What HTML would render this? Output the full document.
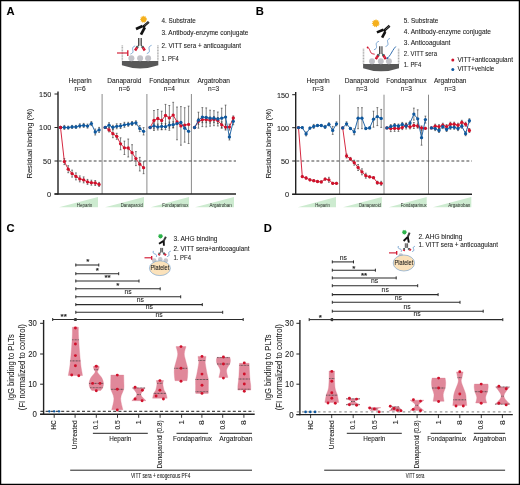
<!DOCTYPE html>
<html><head><meta charset="utf-8"><style>
html,body{margin:0;padding:0;background:#fff;}
svg{display:block;will-change:transform;}
text{font-family:"Liberation Sans", sans-serif;stroke:#222;stroke-width:0.08px;}
</style></head><body>
<svg width="520" height="485" viewBox="0 0 520 485">
<rect x="0" y="0" width="520" height="485" fill="#fff"/>
<text x="6.6" y="15" font-size="11.2" text-anchor="start" fill="#000" font-weight="bold" >A</text>
<text x="255.8" y="15" font-size="11.2" text-anchor="start" fill="#000" font-weight="bold" >B</text>
<text x="6.6" y="232.3" font-size="11.2" text-anchor="start" fill="#000" font-weight="bold" >C</text>
<text x="263.8" y="232" font-size="11.2" text-anchor="start" fill="#000" font-weight="bold" >D</text>
<text x="32.4" y="143.6" font-size="8.0" text-anchor="middle" fill="#222" textLength="70" lengthAdjust="spacingAndGlyphs" transform="rotate(-90 32.4 143.6)" >Residual binding (%)</text>
<text x="51.2" y="96.8" font-size="7.9" text-anchor="end" fill="#222" textLength="12.1" lengthAdjust="spacingAndGlyphs" >150</text>
<line x1="54.5" y1="94" x2="58" y2="94" stroke="#222" stroke-width="1" />
<text x="51.2" y="130.3" font-size="7.9" text-anchor="end" fill="#222" textLength="12.1" lengthAdjust="spacingAndGlyphs" >100</text>
<line x1="54.5" y1="127.5" x2="58" y2="127.5" stroke="#222" stroke-width="1" />
<text x="51.2" y="163.8" font-size="7.9" text-anchor="end" fill="#222" textLength="8.1" lengthAdjust="spacingAndGlyphs" >50</text>
<line x1="54.5" y1="161" x2="58" y2="161" stroke="#222" stroke-width="1" />
<text x="51.2" y="196.8" font-size="7.9" text-anchor="end" fill="#222" textLength="4.1" lengthAdjust="spacingAndGlyphs" >0</text>
<line x1="54.5" y1="194" x2="58" y2="194" stroke="#222" stroke-width="1" />
<line x1="102.1" y1="94" x2="102.1" y2="194" stroke="#8a8a8a" stroke-width="1" />
<line x1="146.9" y1="94" x2="146.9" y2="194" stroke="#8a8a8a" stroke-width="1" />
<line x1="191.4" y1="94" x2="191.4" y2="194" stroke="#8a8a8a" stroke-width="1" />
<line x1="58.7" y1="161" x2="236" y2="161" stroke="#444" stroke-width="1.1" stroke-dasharray="2.9,2.1"/>
<line x1="58" y1="91.4" x2="58" y2="194.6" stroke="#222" stroke-width="1.4" />
<line x1="54.5" y1="194" x2="236" y2="194" stroke="#222" stroke-width="1.4" />
<text x="80" y="83.2" font-size="6.6" text-anchor="middle" fill="#222" >Heparin</text>
<text x="80" y="90.6" font-size="6.6" text-anchor="middle" fill="#222" >n=6</text>
<text x="124.4" y="83.2" font-size="6.6" text-anchor="middle" fill="#222" >Danaparoid</text>
<text x="124.4" y="90.6" font-size="6.6" text-anchor="middle" fill="#222" >n=6</text>
<text x="169.4" y="83.2" font-size="6.6" text-anchor="middle" fill="#222" >Fondaparinux</text>
<text x="169.4" y="90.6" font-size="6.6" text-anchor="middle" fill="#222" >n=4</text>
<text x="213.7" y="83.2" font-size="6.6" text-anchor="middle" fill="#222" >Argatroban</text>
<text x="213.7" y="90.6" font-size="6.6" text-anchor="middle" fill="#222" >n=3</text>
<path d="M59,207.3 L98,207.3 L98,197 Z" fill="#cdebd0"/>
<text x="84.6" y="206.9" font-size="4.8" text-anchor="middle" fill="#2a2a2a" textLength="15.5" lengthAdjust="spacingAndGlyphs" style="stroke:none">Heparin</text>
<path d="M105,207.3 L144,207.3 L144,197 Z" fill="#cdebd0"/>
<text x="131.8" y="206.9" font-size="4.8" text-anchor="middle" fill="#2a2a2a" textLength="22.2" lengthAdjust="spacingAndGlyphs" style="stroke:none">Danaparoid</text>
<path d="M150.7,207.3 L189,207.3 L189,197 Z" fill="#cdebd0"/>
<text x="175.3" y="206.9" font-size="4.8" text-anchor="middle" fill="#2a2a2a" textLength="26.2" lengthAdjust="spacingAndGlyphs" style="stroke:none">Fondaparinux</text>
<path d="M195,207.3 L234,207.3 L234,197 Z" fill="#cdebd0"/>
<text x="220.7" y="206.9" font-size="4.8" text-anchor="middle" fill="#2a2a2a" textLength="22.3" lengthAdjust="spacingAndGlyphs" style="stroke:none">Argatroban</text>
<line x1="64.36" y1="158.6" x2="64.36" y2="164.6" stroke="#333" stroke-width="0.6" />
<line x1="63.46" y1="158.6" x2="65.26" y2="158.6" stroke="#333" stroke-width="0.6" />
<line x1="63.46" y1="164.6" x2="65.26" y2="164.6" stroke="#333" stroke-width="0.6" />
<line x1="68.22" y1="165.7" x2="68.22" y2="172.7" stroke="#333" stroke-width="0.6" />
<line x1="67.32" y1="165.7" x2="69.12" y2="165.7" stroke="#333" stroke-width="0.6" />
<line x1="67.32" y1="172.7" x2="69.12" y2="172.7" stroke="#333" stroke-width="0.6" />
<line x1="72.08" y1="170.1" x2="72.08" y2="177.1" stroke="#333" stroke-width="0.6" />
<line x1="71.18" y1="170.1" x2="72.98" y2="170.1" stroke="#333" stroke-width="0.6" />
<line x1="71.18" y1="177.1" x2="72.98" y2="177.1" stroke="#333" stroke-width="0.6" />
<line x1="75.94" y1="172.9" x2="75.94" y2="179.9" stroke="#333" stroke-width="0.6" />
<line x1="75.04" y1="172.9" x2="76.84" y2="172.9" stroke="#333" stroke-width="0.6" />
<line x1="75.04" y1="179.9" x2="76.84" y2="179.9" stroke="#333" stroke-width="0.6" />
<line x1="79.8" y1="175.9" x2="79.8" y2="181.9" stroke="#333" stroke-width="0.6" />
<line x1="78.9" y1="175.9" x2="80.7" y2="175.9" stroke="#333" stroke-width="0.6" />
<line x1="78.9" y1="181.9" x2="80.7" y2="181.9" stroke="#333" stroke-width="0.6" />
<line x1="83.66" y1="176.9" x2="83.66" y2="182.9" stroke="#333" stroke-width="0.6" />
<line x1="82.76" y1="176.9" x2="84.56" y2="176.9" stroke="#333" stroke-width="0.6" />
<line x1="82.76" y1="182.9" x2="84.56" y2="182.9" stroke="#333" stroke-width="0.6" />
<line x1="87.52" y1="179.4" x2="87.52" y2="184.4" stroke="#333" stroke-width="0.6" />
<line x1="86.62" y1="179.4" x2="88.42" y2="179.4" stroke="#333" stroke-width="0.6" />
<line x1="86.62" y1="184.4" x2="88.42" y2="184.4" stroke="#333" stroke-width="0.6" />
<line x1="91.38" y1="180.2" x2="91.38" y2="185.2" stroke="#333" stroke-width="0.6" />
<line x1="90.48" y1="180.2" x2="92.28" y2="180.2" stroke="#333" stroke-width="0.6" />
<line x1="90.48" y1="185.2" x2="92.28" y2="185.2" stroke="#333" stroke-width="0.6" />
<line x1="95.24" y1="180.5" x2="95.24" y2="185.5" stroke="#333" stroke-width="0.6" />
<line x1="94.34" y1="180.5" x2="96.14" y2="180.5" stroke="#333" stroke-width="0.6" />
<line x1="94.34" y1="185.5" x2="96.14" y2="185.5" stroke="#333" stroke-width="0.6" />
<line x1="99.1" y1="182.4" x2="99.1" y2="186.4" stroke="#333" stroke-width="0.6" />
<line x1="98.2" y1="182.4" x2="100.0" y2="182.4" stroke="#333" stroke-width="0.6" />
<line x1="98.2" y1="186.4" x2="100.0" y2="186.4" stroke="#333" stroke-width="0.6" />
<line x1="64.36" y1="125.4" x2="64.36" y2="129.4" stroke="#333" stroke-width="0.6" />
<line x1="63.46" y1="125.4" x2="65.26" y2="125.4" stroke="#333" stroke-width="0.6" />
<line x1="63.46" y1="129.4" x2="65.26" y2="129.4" stroke="#333" stroke-width="0.6" />
<line x1="68.22" y1="126.1" x2="68.22" y2="129.1" stroke="#333" stroke-width="0.6" />
<line x1="67.32" y1="126.1" x2="69.12" y2="126.1" stroke="#333" stroke-width="0.6" />
<line x1="67.32" y1="129.1" x2="69.12" y2="129.1" stroke="#333" stroke-width="0.6" />
<line x1="72.08" y1="125.4" x2="72.08" y2="128.4" stroke="#333" stroke-width="0.6" />
<line x1="71.18" y1="125.4" x2="72.98" y2="125.4" stroke="#333" stroke-width="0.6" />
<line x1="71.18" y1="128.4" x2="72.98" y2="128.4" stroke="#333" stroke-width="0.6" />
<line x1="75.94" y1="125.4" x2="75.94" y2="128.4" stroke="#333" stroke-width="0.6" />
<line x1="75.04" y1="125.4" x2="76.84" y2="125.4" stroke="#333" stroke-width="0.6" />
<line x1="75.04" y1="128.4" x2="76.84" y2="128.4" stroke="#333" stroke-width="0.6" />
<line x1="79.8" y1="123.8" x2="79.8" y2="127.8" stroke="#333" stroke-width="0.6" />
<line x1="78.9" y1="123.8" x2="80.7" y2="123.8" stroke="#333" stroke-width="0.6" />
<line x1="78.9" y1="127.8" x2="80.7" y2="127.8" stroke="#333" stroke-width="0.6" />
<line x1="83.66" y1="123.4" x2="83.66" y2="127.4" stroke="#333" stroke-width="0.6" />
<line x1="82.76" y1="123.4" x2="84.56" y2="123.4" stroke="#333" stroke-width="0.6" />
<line x1="82.76" y1="127.4" x2="84.56" y2="127.4" stroke="#333" stroke-width="0.6" />
<line x1="87.52" y1="124.1" x2="87.52" y2="128.1" stroke="#333" stroke-width="0.6" />
<line x1="86.62" y1="124.1" x2="88.42" y2="124.1" stroke="#333" stroke-width="0.6" />
<line x1="86.62" y1="128.1" x2="88.42" y2="128.1" stroke="#333" stroke-width="0.6" />
<line x1="91.38" y1="121.6" x2="91.38" y2="125.6" stroke="#333" stroke-width="0.6" />
<line x1="90.48" y1="121.6" x2="92.28" y2="121.6" stroke="#333" stroke-width="0.6" />
<line x1="90.48" y1="125.6" x2="92.28" y2="125.6" stroke="#333" stroke-width="0.6" />
<line x1="95.24" y1="129" x2="95.24" y2="135" stroke="#333" stroke-width="0.6" />
<line x1="94.34" y1="129" x2="96.14" y2="129" stroke="#333" stroke-width="0.6" />
<line x1="94.34" y1="135" x2="96.14" y2="135" stroke="#333" stroke-width="0.6" />
<line x1="99.1" y1="127.4" x2="99.1" y2="132.4" stroke="#333" stroke-width="0.6" />
<line x1="98.2" y1="127.4" x2="100.0" y2="127.4" stroke="#333" stroke-width="0.6" />
<line x1="98.2" y1="132.4" x2="100.0" y2="132.4" stroke="#333" stroke-width="0.6" />
<polyline points="60.50,127.4 64.36,161.6 68.22,169.2 72.08,173.6 75.94,176.4 79.80,178.9 83.66,179.9 87.52,181.9 91.38,182.7 95.24,183 99.10,184.4" fill="none" stroke="#d0112b" stroke-width="0.9"/>
<circle cx="60.50" cy="127.4" r="1.65" fill="#d0112b"/>
<circle cx="64.36" cy="161.6" r="1.65" fill="#d0112b"/>
<circle cx="68.22" cy="169.2" r="1.65" fill="#d0112b"/>
<circle cx="72.08" cy="173.6" r="1.65" fill="#d0112b"/>
<circle cx="75.94" cy="176.4" r="1.65" fill="#d0112b"/>
<circle cx="79.80" cy="178.9" r="1.65" fill="#d0112b"/>
<circle cx="83.66" cy="179.9" r="1.65" fill="#d0112b"/>
<circle cx="87.52" cy="181.9" r="1.65" fill="#d0112b"/>
<circle cx="91.38" cy="182.7" r="1.65" fill="#d0112b"/>
<circle cx="95.24" cy="183" r="1.65" fill="#d0112b"/>
<circle cx="99.10" cy="184.4" r="1.65" fill="#d0112b"/>
<polyline points="60.50,127.4 64.36,127.4 68.22,127.6 72.08,126.9 75.94,126.9 79.80,125.8 83.66,125.4 87.52,126.1 91.38,123.6 95.24,132 99.10,129.9" fill="none" stroke="#0f589e" stroke-width="0.9"/>
<circle cx="60.50" cy="127.4" r="1.65" fill="#0f589e"/>
<circle cx="64.36" cy="127.4" r="1.65" fill="#0f589e"/>
<circle cx="68.22" cy="127.6" r="1.65" fill="#0f589e"/>
<circle cx="72.08" cy="126.9" r="1.65" fill="#0f589e"/>
<circle cx="75.94" cy="126.9" r="1.65" fill="#0f589e"/>
<circle cx="79.80" cy="125.8" r="1.65" fill="#0f589e"/>
<circle cx="83.66" cy="125.4" r="1.65" fill="#0f589e"/>
<circle cx="87.52" cy="126.1" r="1.65" fill="#0f589e"/>
<circle cx="91.38" cy="123.6" r="1.65" fill="#0f589e"/>
<circle cx="95.24" cy="132" r="1.65" fill="#0f589e"/>
<circle cx="99.10" cy="129.9" r="1.65" fill="#0f589e"/>
<line x1="109.04" y1="127.9" x2="109.04" y2="131.9" stroke="#333" stroke-width="0.6" />
<line x1="108.14" y1="127.9" x2="109.94" y2="127.9" stroke="#333" stroke-width="0.6" />
<line x1="108.14" y1="131.9" x2="109.94" y2="131.9" stroke="#333" stroke-width="0.6" />
<line x1="112.88" y1="129.7" x2="112.88" y2="137.7" stroke="#333" stroke-width="0.6" />
<line x1="111.98" y1="129.7" x2="113.78" y2="129.7" stroke="#333" stroke-width="0.6" />
<line x1="111.98" y1="137.7" x2="113.78" y2="137.7" stroke="#333" stroke-width="0.6" />
<line x1="116.72" y1="133.3" x2="116.72" y2="139.3" stroke="#333" stroke-width="0.6" />
<line x1="115.82" y1="133.3" x2="117.62" y2="133.3" stroke="#333" stroke-width="0.6" />
<line x1="115.82" y1="139.3" x2="117.62" y2="139.3" stroke="#333" stroke-width="0.6" />
<line x1="120.56" y1="137.8" x2="120.56" y2="149.8" stroke="#333" stroke-width="0.6" />
<line x1="119.66" y1="137.8" x2="121.46" y2="137.8" stroke="#333" stroke-width="0.6" />
<line x1="119.66" y1="149.8" x2="121.46" y2="149.8" stroke="#333" stroke-width="0.6" />
<line x1="124.4" y1="141.1" x2="124.4" y2="154.5" stroke="#333" stroke-width="0.6" />
<line x1="123.5" y1="141.1" x2="125.3" y2="141.1" stroke="#333" stroke-width="0.6" />
<line x1="123.5" y1="154.5" x2="125.3" y2="154.5" stroke="#333" stroke-width="0.6" />
<line x1="128.24" y1="139" x2="128.24" y2="157" stroke="#333" stroke-width="0.6" />
<line x1="127.34" y1="139" x2="129.14" y2="139" stroke="#333" stroke-width="0.6" />
<line x1="127.34" y1="157" x2="129.14" y2="157" stroke="#333" stroke-width="0.6" />
<line x1="132.08" y1="144.7" x2="132.08" y2="160.7" stroke="#333" stroke-width="0.6" />
<line x1="131.18" y1="144.7" x2="132.98" y2="144.7" stroke="#333" stroke-width="0.6" />
<line x1="131.18" y1="160.7" x2="132.98" y2="160.7" stroke="#333" stroke-width="0.6" />
<line x1="135.92" y1="151.6" x2="135.92" y2="165.6" stroke="#333" stroke-width="0.6" />
<line x1="135.02" y1="151.6" x2="136.82" y2="151.6" stroke="#333" stroke-width="0.6" />
<line x1="135.02" y1="165.6" x2="136.82" y2="165.6" stroke="#333" stroke-width="0.6" />
<line x1="139.76" y1="157.4" x2="139.76" y2="171.0" stroke="#333" stroke-width="0.6" />
<line x1="138.86" y1="157.4" x2="140.66" y2="157.4" stroke="#333" stroke-width="0.6" />
<line x1="138.86" y1="171.0" x2="140.66" y2="171.0" stroke="#333" stroke-width="0.6" />
<line x1="143.6" y1="161.7" x2="143.6" y2="173.7" stroke="#333" stroke-width="0.6" />
<line x1="142.7" y1="161.7" x2="144.5" y2="161.7" stroke="#333" stroke-width="0.6" />
<line x1="142.7" y1="173.7" x2="144.5" y2="173.7" stroke="#333" stroke-width="0.6" />
<line x1="109.04" y1="122.7" x2="109.04" y2="127.7" stroke="#333" stroke-width="0.6" />
<line x1="108.14" y1="122.7" x2="109.94" y2="122.7" stroke="#333" stroke-width="0.6" />
<line x1="108.14" y1="127.7" x2="109.94" y2="127.7" stroke="#333" stroke-width="0.6" />
<line x1="112.88" y1="125.3" x2="112.88" y2="129.3" stroke="#333" stroke-width="0.6" />
<line x1="111.98" y1="125.3" x2="113.78" y2="125.3" stroke="#333" stroke-width="0.6" />
<line x1="111.98" y1="129.3" x2="113.78" y2="129.3" stroke="#333" stroke-width="0.6" />
<line x1="116.72" y1="123.8" x2="116.72" y2="128.8" stroke="#333" stroke-width="0.6" />
<line x1="115.82" y1="123.8" x2="117.62" y2="123.8" stroke="#333" stroke-width="0.6" />
<line x1="115.82" y1="128.8" x2="117.62" y2="128.8" stroke="#333" stroke-width="0.6" />
<line x1="120.56" y1="123.5" x2="120.56" y2="128.5" stroke="#333" stroke-width="0.6" />
<line x1="119.66" y1="123.5" x2="121.46" y2="123.5" stroke="#333" stroke-width="0.6" />
<line x1="119.66" y1="128.5" x2="121.46" y2="128.5" stroke="#333" stroke-width="0.6" />
<line x1="124.4" y1="122.3" x2="124.4" y2="127.3" stroke="#333" stroke-width="0.6" />
<line x1="123.5" y1="122.3" x2="125.3" y2="122.3" stroke="#333" stroke-width="0.6" />
<line x1="123.5" y1="127.3" x2="125.3" y2="127.3" stroke="#333" stroke-width="0.6" />
<line x1="128.24" y1="122.3" x2="128.24" y2="126.3" stroke="#333" stroke-width="0.6" />
<line x1="127.34" y1="122.3" x2="129.14" y2="122.3" stroke="#333" stroke-width="0.6" />
<line x1="127.34" y1="126.3" x2="129.14" y2="126.3" stroke="#333" stroke-width="0.6" />
<line x1="132.08" y1="121.5" x2="132.08" y2="125.5" stroke="#333" stroke-width="0.6" />
<line x1="131.18" y1="121.5" x2="132.98" y2="121.5" stroke="#333" stroke-width="0.6" />
<line x1="131.18" y1="125.5" x2="132.98" y2="125.5" stroke="#333" stroke-width="0.6" />
<line x1="135.92" y1="120.8" x2="135.92" y2="124.8" stroke="#333" stroke-width="0.6" />
<line x1="135.02" y1="120.8" x2="136.82" y2="120.8" stroke="#333" stroke-width="0.6" />
<line x1="135.02" y1="124.8" x2="136.82" y2="124.8" stroke="#333" stroke-width="0.6" />
<line x1="139.76" y1="125.6" x2="139.76" y2="131.6" stroke="#333" stroke-width="0.6" />
<line x1="138.86" y1="125.6" x2="140.66" y2="125.6" stroke="#333" stroke-width="0.6" />
<line x1="138.86" y1="131.6" x2="140.66" y2="131.6" stroke="#333" stroke-width="0.6" />
<line x1="143.6" y1="127.6" x2="143.6" y2="135.0" stroke="#333" stroke-width="0.6" />
<line x1="142.7" y1="127.6" x2="144.5" y2="127.6" stroke="#333" stroke-width="0.6" />
<line x1="142.7" y1="135.0" x2="144.5" y2="135.0" stroke="#333" stroke-width="0.6" />
<polyline points="105.20,127.4 109.04,129.9 112.88,133.7 116.72,136.3 120.56,143.8 124.40,147.8 128.24,148 132.08,152.7 135.92,158.6 139.76,164.2 143.60,167.7" fill="none" stroke="#d0112b" stroke-width="0.9"/>
<circle cx="105.20" cy="127.4" r="1.65" fill="#d0112b"/>
<circle cx="109.04" cy="129.9" r="1.65" fill="#d0112b"/>
<circle cx="112.88" cy="133.7" r="1.65" fill="#d0112b"/>
<circle cx="116.72" cy="136.3" r="1.65" fill="#d0112b"/>
<circle cx="120.56" cy="143.8" r="1.65" fill="#d0112b"/>
<circle cx="124.40" cy="147.8" r="1.65" fill="#d0112b"/>
<circle cx="128.24" cy="148" r="1.65" fill="#d0112b"/>
<circle cx="132.08" cy="152.7" r="1.65" fill="#d0112b"/>
<circle cx="135.92" cy="158.6" r="1.65" fill="#d0112b"/>
<circle cx="139.76" cy="164.2" r="1.65" fill="#d0112b"/>
<circle cx="143.60" cy="167.7" r="1.65" fill="#d0112b"/>
<polyline points="105.20,127.4 109.04,125.2 112.88,127.3 116.72,126.3 120.56,126 124.40,124.8 128.24,124.3 132.08,123.5 135.92,122.8 139.76,128.6 143.60,131.3" fill="none" stroke="#0f589e" stroke-width="0.9"/>
<circle cx="105.20" cy="127.4" r="1.65" fill="#0f589e"/>
<circle cx="109.04" cy="125.2" r="1.65" fill="#0f589e"/>
<circle cx="112.88" cy="127.3" r="1.65" fill="#0f589e"/>
<circle cx="116.72" cy="126.3" r="1.65" fill="#0f589e"/>
<circle cx="120.56" cy="126" r="1.65" fill="#0f589e"/>
<circle cx="124.40" cy="124.8" r="1.65" fill="#0f589e"/>
<circle cx="128.24" cy="124.3" r="1.65" fill="#0f589e"/>
<circle cx="132.08" cy="123.5" r="1.65" fill="#0f589e"/>
<circle cx="135.92" cy="122.8" r="1.65" fill="#0f589e"/>
<circle cx="139.76" cy="128.6" r="1.65" fill="#0f589e"/>
<circle cx="143.60" cy="131.3" r="1.65" fill="#0f589e"/>
<line x1="177.0" y1="107.0" x2="177.0" y2="139.8" stroke="#333" stroke-width="0.6" />
<line x1="176.1" y1="107.0" x2="177.9" y2="107.0" stroke="#333" stroke-width="0.6" />
<line x1="176.1" y1="139.8" x2="177.9" y2="139.8" stroke="#333" stroke-width="0.6" />
<line x1="180.9" y1="106.6" x2="180.9" y2="145.2" stroke="#333" stroke-width="0.6" />
<line x1="180.0" y1="106.6" x2="181.8" y2="106.6" stroke="#333" stroke-width="0.6" />
<line x1="180.0" y1="145.2" x2="181.8" y2="145.2" stroke="#333" stroke-width="0.6" />
<line x1="184.7" y1="107.7" x2="184.7" y2="142.2" stroke="#333" stroke-width="0.6" />
<line x1="183.79999999999998" y1="107.7" x2="185.6" y2="107.7" stroke="#333" stroke-width="0.6" />
<line x1="183.79999999999998" y1="142.2" x2="185.6" y2="142.2" stroke="#333" stroke-width="0.6" />
<line x1="188.6" y1="106.1" x2="188.6" y2="143.5" stroke="#333" stroke-width="0.6" />
<line x1="187.7" y1="106.1" x2="189.5" y2="106.1" stroke="#333" stroke-width="0.6" />
<line x1="187.7" y1="143.5" x2="189.5" y2="143.5" stroke="#333" stroke-width="0.6" />
<line x1="153.95" y1="110.5" x2="153.95" y2="130.5" stroke="#333" stroke-width="0.6" />
<line x1="153.05" y1="110.5" x2="154.85" y2="110.5" stroke="#333" stroke-width="0.6" />
<line x1="153.05" y1="130.5" x2="154.85" y2="130.5" stroke="#333" stroke-width="0.6" />
<line x1="157.8" y1="109.5" x2="157.8" y2="127.5" stroke="#333" stroke-width="0.6" />
<line x1="156.9" y1="109.5" x2="158.7" y2="109.5" stroke="#333" stroke-width="0.6" />
<line x1="156.9" y1="127.5" x2="158.7" y2="127.5" stroke="#333" stroke-width="0.6" />
<line x1="161.65" y1="111.2" x2="161.65" y2="129.8" stroke="#333" stroke-width="0.6" />
<line x1="160.75" y1="111.2" x2="162.55" y2="111.2" stroke="#333" stroke-width="0.6" />
<line x1="160.75" y1="129.8" x2="162.55" y2="129.8" stroke="#333" stroke-width="0.6" />
<line x1="165.5" y1="104.4" x2="165.5" y2="126.4" stroke="#333" stroke-width="0.6" />
<line x1="164.6" y1="104.4" x2="166.4" y2="104.4" stroke="#333" stroke-width="0.6" />
<line x1="164.6" y1="126.4" x2="166.4" y2="126.4" stroke="#333" stroke-width="0.6" />
<line x1="169.35" y1="105.5" x2="169.35" y2="130.3" stroke="#333" stroke-width="0.6" />
<line x1="168.45" y1="105.5" x2="170.25" y2="105.5" stroke="#333" stroke-width="0.6" />
<line x1="168.45" y1="130.3" x2="170.25" y2="130.3" stroke="#333" stroke-width="0.6" />
<line x1="173.2" y1="102.3" x2="173.2" y2="127.9" stroke="#333" stroke-width="0.6" />
<line x1="172.3" y1="102.3" x2="174.1" y2="102.3" stroke="#333" stroke-width="0.6" />
<line x1="172.3" y1="127.9" x2="174.1" y2="127.9" stroke="#333" stroke-width="0.6" />
<line x1="153.95" y1="122.9" x2="153.95" y2="128.9" stroke="#333" stroke-width="0.6" />
<line x1="153.05" y1="122.9" x2="154.85" y2="122.9" stroke="#333" stroke-width="0.6" />
<line x1="153.05" y1="128.9" x2="154.85" y2="128.9" stroke="#333" stroke-width="0.6" />
<line x1="157.8" y1="124" x2="157.8" y2="130" stroke="#333" stroke-width="0.6" />
<line x1="156.9" y1="124" x2="158.7" y2="124" stroke="#333" stroke-width="0.6" />
<line x1="156.9" y1="130" x2="158.7" y2="130" stroke="#333" stroke-width="0.6" />
<line x1="161.65" y1="123.4" x2="161.65" y2="129.4" stroke="#333" stroke-width="0.6" />
<line x1="160.75" y1="123.4" x2="162.55" y2="123.4" stroke="#333" stroke-width="0.6" />
<line x1="160.75" y1="129.4" x2="162.55" y2="129.4" stroke="#333" stroke-width="0.6" />
<line x1="165.5" y1="123.7" x2="165.5" y2="129.7" stroke="#333" stroke-width="0.6" />
<line x1="164.6" y1="123.7" x2="166.4" y2="123.7" stroke="#333" stroke-width="0.6" />
<line x1="164.6" y1="129.7" x2="166.4" y2="129.7" stroke="#333" stroke-width="0.6" />
<line x1="169.35" y1="122.1" x2="169.35" y2="128.1" stroke="#333" stroke-width="0.6" />
<line x1="168.45" y1="122.1" x2="170.25" y2="122.1" stroke="#333" stroke-width="0.6" />
<line x1="168.45" y1="128.1" x2="170.25" y2="128.1" stroke="#333" stroke-width="0.6" />
<line x1="173.2" y1="121.7" x2="173.2" y2="127.7" stroke="#333" stroke-width="0.6" />
<line x1="172.3" y1="121.7" x2="174.1" y2="121.7" stroke="#333" stroke-width="0.6" />
<line x1="172.3" y1="127.7" x2="174.1" y2="127.7" stroke="#333" stroke-width="0.6" />
<polyline points="150.10,127.5 153.95,120.5 157.80,118.5 161.65,120.5 165.50,115.4 169.35,117.9 173.20,115.1 177.05,122 180.90,125.9 184.75,125.1 188.60,124.4" fill="none" stroke="#d0112b" stroke-width="0.9"/>
<circle cx="150.10" cy="127.5" r="1.65" fill="#d0112b"/>
<circle cx="153.95" cy="120.5" r="1.65" fill="#d0112b"/>
<circle cx="157.80" cy="118.5" r="1.65" fill="#d0112b"/>
<circle cx="161.65" cy="120.5" r="1.65" fill="#d0112b"/>
<circle cx="165.50" cy="115.4" r="1.65" fill="#d0112b"/>
<circle cx="169.35" cy="117.9" r="1.65" fill="#d0112b"/>
<circle cx="173.20" cy="115.1" r="1.65" fill="#d0112b"/>
<circle cx="177.05" cy="122" r="1.65" fill="#d0112b"/>
<circle cx="180.90" cy="125.9" r="1.65" fill="#d0112b"/>
<circle cx="184.75" cy="125.1" r="1.65" fill="#d0112b"/>
<circle cx="188.60" cy="124.4" r="1.65" fill="#d0112b"/>
<polyline points="150.10,127.5 153.95,125.9 157.80,127 161.65,126.4 165.50,126.7 169.35,125.1 173.20,124.7 177.05,123.6 180.90,122.5 184.75,128.2 188.60,131.3" fill="none" stroke="#0f589e" stroke-width="0.9"/>
<circle cx="150.10" cy="127.5" r="1.65" fill="#0f589e"/>
<circle cx="153.95" cy="125.9" r="1.65" fill="#0f589e"/>
<circle cx="157.80" cy="127" r="1.65" fill="#0f589e"/>
<circle cx="161.65" cy="126.4" r="1.65" fill="#0f589e"/>
<circle cx="165.50" cy="126.7" r="1.65" fill="#0f589e"/>
<circle cx="169.35" cy="125.1" r="1.65" fill="#0f589e"/>
<circle cx="173.20" cy="124.7" r="1.65" fill="#0f589e"/>
<circle cx="177.05" cy="123.6" r="1.65" fill="#0f589e"/>
<circle cx="180.90" cy="122.5" r="1.65" fill="#0f589e"/>
<circle cx="184.75" cy="128.2" r="1.65" fill="#0f589e"/>
<circle cx="188.60" cy="131.3" r="1.65" fill="#0f589e"/>
<line x1="198.47" y1="118.3" x2="198.47" y2="124.3" stroke="#333" stroke-width="0.6" />
<line x1="197.57" y1="118.3" x2="199.37" y2="118.3" stroke="#333" stroke-width="0.6" />
<line x1="197.57" y1="124.3" x2="199.37" y2="124.3" stroke="#333" stroke-width="0.6" />
<line x1="202.34" y1="116.7" x2="202.34" y2="122.7" stroke="#333" stroke-width="0.6" />
<line x1="201.44" y1="116.7" x2="203.24" y2="116.7" stroke="#333" stroke-width="0.6" />
<line x1="201.44" y1="122.7" x2="203.24" y2="122.7" stroke="#333" stroke-width="0.6" />
<line x1="206.21" y1="116.7" x2="206.21" y2="122.7" stroke="#333" stroke-width="0.6" />
<line x1="205.31" y1="116.7" x2="207.11" y2="116.7" stroke="#333" stroke-width="0.6" />
<line x1="205.31" y1="122.7" x2="207.11" y2="122.7" stroke="#333" stroke-width="0.6" />
<line x1="210.08" y1="117.2" x2="210.08" y2="123.2" stroke="#333" stroke-width="0.6" />
<line x1="209.18" y1="117.2" x2="210.98" y2="117.2" stroke="#333" stroke-width="0.6" />
<line x1="209.18" y1="123.2" x2="210.98" y2="123.2" stroke="#333" stroke-width="0.6" />
<line x1="213.95" y1="116.4" x2="213.95" y2="122.4" stroke="#333" stroke-width="0.6" />
<line x1="213.05" y1="116.4" x2="214.85" y2="116.4" stroke="#333" stroke-width="0.6" />
<line x1="213.05" y1="122.4" x2="214.85" y2="122.4" stroke="#333" stroke-width="0.6" />
<line x1="217.82" y1="117.5" x2="217.82" y2="123.5" stroke="#333" stroke-width="0.6" />
<line x1="216.92" y1="117.5" x2="218.72" y2="117.5" stroke="#333" stroke-width="0.6" />
<line x1="216.92" y1="123.5" x2="218.72" y2="123.5" stroke="#333" stroke-width="0.6" />
<line x1="221.69" y1="121.8" x2="221.69" y2="127.8" stroke="#333" stroke-width="0.6" />
<line x1="220.79" y1="121.8" x2="222.59" y2="121.8" stroke="#333" stroke-width="0.6" />
<line x1="220.79" y1="127.8" x2="222.59" y2="127.8" stroke="#333" stroke-width="0.6" />
<line x1="225.56" y1="124.1" x2="225.56" y2="130.1" stroke="#333" stroke-width="0.6" />
<line x1="224.66" y1="124.1" x2="226.46" y2="124.1" stroke="#333" stroke-width="0.6" />
<line x1="224.66" y1="130.1" x2="226.46" y2="130.1" stroke="#333" stroke-width="0.6" />
<line x1="229.43" y1="124.1" x2="229.43" y2="130.1" stroke="#333" stroke-width="0.6" />
<line x1="228.53" y1="124.1" x2="230.33" y2="124.1" stroke="#333" stroke-width="0.6" />
<line x1="228.53" y1="130.1" x2="230.33" y2="130.1" stroke="#333" stroke-width="0.6" />
<line x1="233.3" y1="115.9" x2="233.3" y2="119.9" stroke="#333" stroke-width="0.6" />
<line x1="232.4" y1="115.9" x2="234.2" y2="115.9" stroke="#333" stroke-width="0.6" />
<line x1="232.4" y1="119.9" x2="234.2" y2="119.9" stroke="#333" stroke-width="0.6" />
<line x1="198.47" y1="112.2" x2="198.47" y2="128.2" stroke="#333" stroke-width="0.6" />
<line x1="197.57" y1="112.2" x2="199.37" y2="112.2" stroke="#333" stroke-width="0.6" />
<line x1="197.57" y1="128.2" x2="199.37" y2="128.2" stroke="#333" stroke-width="0.6" />
<line x1="202.34" y1="107.6" x2="202.34" y2="126.6" stroke="#333" stroke-width="0.6" />
<line x1="201.44" y1="107.6" x2="203.24" y2="107.6" stroke="#333" stroke-width="0.6" />
<line x1="201.44" y1="126.6" x2="203.24" y2="126.6" stroke="#333" stroke-width="0.6" />
<line x1="206.21" y1="107.9" x2="206.21" y2="126.9" stroke="#333" stroke-width="0.6" />
<line x1="205.31" y1="107.9" x2="207.11" y2="107.9" stroke="#333" stroke-width="0.6" />
<line x1="205.31" y1="126.9" x2="207.11" y2="126.9" stroke="#333" stroke-width="0.6" />
<line x1="210.08" y1="110.2" x2="210.08" y2="126.2" stroke="#333" stroke-width="0.6" />
<line x1="209.18" y1="110.2" x2="210.98" y2="110.2" stroke="#333" stroke-width="0.6" />
<line x1="209.18" y1="126.2" x2="210.98" y2="126.2" stroke="#333" stroke-width="0.6" />
<line x1="213.95" y1="110.7" x2="213.95" y2="125.7" stroke="#333" stroke-width="0.6" />
<line x1="213.05" y1="110.7" x2="214.85" y2="110.7" stroke="#333" stroke-width="0.6" />
<line x1="213.05" y1="125.7" x2="214.85" y2="125.7" stroke="#333" stroke-width="0.6" />
<line x1="217.82" y1="112" x2="217.82" y2="126" stroke="#333" stroke-width="0.6" />
<line x1="216.92" y1="112" x2="218.72" y2="112" stroke="#333" stroke-width="0.6" />
<line x1="216.92" y1="126" x2="218.72" y2="126" stroke="#333" stroke-width="0.6" />
<line x1="221.69" y1="108.2" x2="221.69" y2="128.2" stroke="#333" stroke-width="0.6" />
<line x1="220.79" y1="108.2" x2="222.59" y2="108.2" stroke="#333" stroke-width="0.6" />
<line x1="220.79" y1="128.2" x2="222.59" y2="128.2" stroke="#333" stroke-width="0.6" />
<line x1="225.56" y1="105.1" x2="225.56" y2="129.1" stroke="#333" stroke-width="0.6" />
<line x1="224.66" y1="105.1" x2="226.46" y2="105.1" stroke="#333" stroke-width="0.6" />
<line x1="224.66" y1="129.1" x2="226.46" y2="129.1" stroke="#333" stroke-width="0.6" />
<line x1="229.43" y1="134" x2="229.43" y2="140" stroke="#333" stroke-width="0.6" />
<line x1="228.53" y1="134" x2="230.33" y2="134" stroke="#333" stroke-width="0.6" />
<line x1="228.53" y1="140" x2="230.33" y2="140" stroke="#333" stroke-width="0.6" />
<line x1="233.3" y1="117.8" x2="233.3" y2="124.8" stroke="#333" stroke-width="0.6" />
<line x1="232.4" y1="117.8" x2="234.2" y2="117.8" stroke="#333" stroke-width="0.6" />
<line x1="232.4" y1="124.8" x2="234.2" y2="124.8" stroke="#333" stroke-width="0.6" />
<polyline points="194.60,127.5 198.47,121.3 202.34,119.7 206.21,119.7 210.08,120.2 213.95,119.4 217.82,120.5 221.69,124.8 225.56,127.1 229.43,127.1 233.30,117.9" fill="none" stroke="#d0112b" stroke-width="0.9"/>
<circle cx="194.60" cy="127.5" r="1.65" fill="#d0112b"/>
<circle cx="198.47" cy="121.3" r="1.65" fill="#d0112b"/>
<circle cx="202.34" cy="119.7" r="1.65" fill="#d0112b"/>
<circle cx="206.21" cy="119.7" r="1.65" fill="#d0112b"/>
<circle cx="210.08" cy="120.2" r="1.65" fill="#d0112b"/>
<circle cx="213.95" cy="119.4" r="1.65" fill="#d0112b"/>
<circle cx="217.82" cy="120.5" r="1.65" fill="#d0112b"/>
<circle cx="221.69" cy="124.8" r="1.65" fill="#d0112b"/>
<circle cx="225.56" cy="127.1" r="1.65" fill="#d0112b"/>
<circle cx="229.43" cy="127.1" r="1.65" fill="#d0112b"/>
<circle cx="233.30" cy="117.9" r="1.65" fill="#d0112b"/>
<polyline points="194.60,127.5 198.47,120.2 202.34,117.1 206.21,117.4 210.08,118.2 213.95,118.2 217.82,119 221.69,118.2 225.56,117.1 229.43,137 233.30,121.3" fill="none" stroke="#0f589e" stroke-width="0.9"/>
<circle cx="194.60" cy="127.5" r="1.65" fill="#0f589e"/>
<circle cx="198.47" cy="120.2" r="1.65" fill="#0f589e"/>
<circle cx="202.34" cy="117.1" r="1.65" fill="#0f589e"/>
<circle cx="206.21" cy="117.4" r="1.65" fill="#0f589e"/>
<circle cx="210.08" cy="118.2" r="1.65" fill="#0f589e"/>
<circle cx="213.95" cy="118.2" r="1.65" fill="#0f589e"/>
<circle cx="217.82" cy="119" r="1.65" fill="#0f589e"/>
<circle cx="221.69" cy="118.2" r="1.65" fill="#0f589e"/>
<circle cx="225.56" cy="117.1" r="1.65" fill="#0f589e"/>
<circle cx="229.43" cy="137" r="1.65" fill="#0f589e"/>
<circle cx="233.30" cy="121.3" r="1.65" fill="#0f589e"/>
<circle cx="60.5" cy="127.4" r="1.6" fill="#d0112b"/>
<text x="270.9" y="143.6" font-size="8.0" text-anchor="middle" fill="#222" textLength="70" lengthAdjust="spacingAndGlyphs" transform="rotate(-90 270.9 143.6)" >Residual binding (%)</text>
<text x="289" y="97.5" font-size="7.9" text-anchor="end" fill="#222" textLength="12.1" lengthAdjust="spacingAndGlyphs" >150</text>
<line x1="292.2" y1="94.7" x2="295.7" y2="94.7" stroke="#222" stroke-width="1" />
<text x="289" y="130.5" font-size="7.9" text-anchor="end" fill="#222" textLength="12.1" lengthAdjust="spacingAndGlyphs" >100</text>
<line x1="292.2" y1="127.7" x2="295.7" y2="127.7" stroke="#222" stroke-width="1" />
<text x="289" y="163.8" font-size="7.9" text-anchor="end" fill="#222" textLength="8.1" lengthAdjust="spacingAndGlyphs" >50</text>
<line x1="292.2" y1="161" x2="295.7" y2="161" stroke="#222" stroke-width="1" />
<text x="289" y="197.10000000000002" font-size="7.9" text-anchor="end" fill="#222" textLength="4.1" lengthAdjust="spacingAndGlyphs" >0</text>
<line x1="292.2" y1="194.3" x2="295.7" y2="194.3" stroke="#222" stroke-width="1" />
<line x1="339.6" y1="94.7" x2="339.6" y2="194.3" stroke="#8a8a8a" stroke-width="1" />
<line x1="384" y1="94.7" x2="384" y2="194.3" stroke="#8a8a8a" stroke-width="1" />
<line x1="428.5" y1="94.7" x2="428.5" y2="194.3" stroke="#8a8a8a" stroke-width="1" />
<line x1="296.4" y1="161" x2="472" y2="161" stroke="#444" stroke-width="1.1" stroke-dasharray="2.9,2.1"/>
<line x1="295.7" y1="92.10000000000001" x2="295.7" y2="194.9" stroke="#222" stroke-width="1.4" />
<line x1="292.2" y1="194.3" x2="472" y2="194.3" stroke="#222" stroke-width="1.4" />
<text x="318" y="83.2" font-size="6.6" text-anchor="middle" fill="#222" >Heparin</text>
<text x="318" y="90.6" font-size="6.6" text-anchor="middle" fill="#222" >n=3</text>
<text x="361.8" y="83.2" font-size="6.6" text-anchor="middle" fill="#222" >Danaparoid</text>
<text x="361.8" y="90.6" font-size="6.6" text-anchor="middle" fill="#222" >n=3</text>
<text x="406.4" y="83.2" font-size="6.6" text-anchor="middle" fill="#222" >Fondaparinux</text>
<text x="406.4" y="90.6" font-size="6.6" text-anchor="middle" fill="#222" >n=3</text>
<text x="450.2" y="83.2" font-size="6.6" text-anchor="middle" fill="#222" >Argatroban</text>
<text x="450.2" y="90.6" font-size="6.6" text-anchor="middle" fill="#222" >n=3</text>
<path d="M297.7,207.3 L336,207.3 L336,197 Z" fill="#cdebd0"/>
<text x="322.5" y="206.9" font-size="4.8" text-anchor="middle" fill="#2a2a2a" textLength="14.7" lengthAdjust="spacingAndGlyphs" style="stroke:none">Heparin</text>
<path d="M343,207.3 L381.8,207.3 L381.8,197 Z" fill="#cdebd0"/>
<text x="370" y="206.9" font-size="4.8" text-anchor="middle" fill="#2a2a2a" textLength="21.9" lengthAdjust="spacingAndGlyphs" style="stroke:none">Danaparoid</text>
<path d="M388.7,207.3 L426.7,207.3 L426.7,197 Z" fill="#cdebd0"/>
<text x="413.7" y="206.9" font-size="4.8" text-anchor="middle" fill="#2a2a2a" textLength="25.9" lengthAdjust="spacingAndGlyphs" style="stroke:none">Fondaparinux</text>
<path d="M432.9,207.3 L471.3,207.3 L471.3,197 Z" fill="#cdebd0"/>
<text x="459.3" y="206.9" font-size="4.8" text-anchor="middle" fill="#2a2a2a" textLength="22.1" lengthAdjust="spacingAndGlyphs" style="stroke:none">Argatroban</text>
<line x1="302.3" y1="175.6" x2="302.3" y2="177.6" stroke="#333" stroke-width="0.6" />
<line x1="301.4" y1="175.6" x2="303.2" y2="175.6" stroke="#333" stroke-width="0.6" />
<line x1="301.4" y1="177.6" x2="303.2" y2="177.6" stroke="#333" stroke-width="0.6" />
<line x1="306.1" y1="177" x2="306.1" y2="179" stroke="#333" stroke-width="0.6" />
<line x1="305.2" y1="177" x2="307.0" y2="177" stroke="#333" stroke-width="0.6" />
<line x1="305.2" y1="179" x2="307.0" y2="179" stroke="#333" stroke-width="0.6" />
<line x1="309.9" y1="178.8" x2="309.9" y2="180.8" stroke="#333" stroke-width="0.6" />
<line x1="309.0" y1="178.8" x2="310.8" y2="178.8" stroke="#333" stroke-width="0.6" />
<line x1="309.0" y1="180.8" x2="310.8" y2="180.8" stroke="#333" stroke-width="0.6" />
<line x1="313.7" y1="179.7" x2="313.7" y2="181.7" stroke="#333" stroke-width="0.6" />
<line x1="312.8" y1="179.7" x2="314.6" y2="179.7" stroke="#333" stroke-width="0.6" />
<line x1="312.8" y1="181.7" x2="314.6" y2="181.7" stroke="#333" stroke-width="0.6" />
<line x1="317.5" y1="180.5" x2="317.5" y2="182.5" stroke="#333" stroke-width="0.6" />
<line x1="316.6" y1="180.5" x2="318.4" y2="180.5" stroke="#333" stroke-width="0.6" />
<line x1="316.6" y1="182.5" x2="318.4" y2="182.5" stroke="#333" stroke-width="0.6" />
<line x1="321.3" y1="180.9" x2="321.3" y2="182.9" stroke="#333" stroke-width="0.6" />
<line x1="320.4" y1="180.9" x2="322.2" y2="180.9" stroke="#333" stroke-width="0.6" />
<line x1="320.4" y1="182.9" x2="322.2" y2="182.9" stroke="#333" stroke-width="0.6" />
<line x1="325.1" y1="178.1" x2="325.1" y2="180.1" stroke="#333" stroke-width="0.6" />
<line x1="324.2" y1="178.1" x2="326.0" y2="178.1" stroke="#333" stroke-width="0.6" />
<line x1="324.2" y1="180.1" x2="326.0" y2="180.1" stroke="#333" stroke-width="0.6" />
<line x1="328.9" y1="177.3" x2="328.9" y2="182.3" stroke="#333" stroke-width="0.6" />
<line x1="328.0" y1="177.3" x2="329.8" y2="177.3" stroke="#333" stroke-width="0.6" />
<line x1="328.0" y1="182.3" x2="329.8" y2="182.3" stroke="#333" stroke-width="0.6" />
<line x1="332.7" y1="182.3" x2="332.7" y2="184.3" stroke="#333" stroke-width="0.6" />
<line x1="331.8" y1="182.3" x2="333.6" y2="182.3" stroke="#333" stroke-width="0.6" />
<line x1="331.8" y1="184.3" x2="333.6" y2="184.3" stroke="#333" stroke-width="0.6" />
<line x1="336.5" y1="182.3" x2="336.5" y2="184.3" stroke="#333" stroke-width="0.6" />
<line x1="335.6" y1="182.3" x2="337.4" y2="182.3" stroke="#333" stroke-width="0.6" />
<line x1="335.6" y1="184.3" x2="337.4" y2="184.3" stroke="#333" stroke-width="0.6" />
<line x1="302.3" y1="126.6" x2="302.3" y2="128.6" stroke="#333" stroke-width="0.6" />
<line x1="301.4" y1="126.6" x2="303.2" y2="126.6" stroke="#333" stroke-width="0.6" />
<line x1="301.4" y1="128.6" x2="303.2" y2="128.6" stroke="#333" stroke-width="0.6" />
<line x1="306.1" y1="131.9" x2="306.1" y2="135.9" stroke="#333" stroke-width="0.6" />
<line x1="305.2" y1="131.9" x2="307.0" y2="131.9" stroke="#333" stroke-width="0.6" />
<line x1="305.2" y1="135.9" x2="307.0" y2="135.9" stroke="#333" stroke-width="0.6" />
<line x1="309.9" y1="127.1" x2="309.9" y2="129.1" stroke="#333" stroke-width="0.6" />
<line x1="309.0" y1="127.1" x2="310.8" y2="127.1" stroke="#333" stroke-width="0.6" />
<line x1="309.0" y1="129.1" x2="310.8" y2="129.1" stroke="#333" stroke-width="0.6" />
<line x1="313.7" y1="124.4" x2="313.7" y2="128.4" stroke="#333" stroke-width="0.6" />
<line x1="312.8" y1="124.4" x2="314.6" y2="124.4" stroke="#333" stroke-width="0.6" />
<line x1="312.8" y1="128.4" x2="314.6" y2="128.4" stroke="#333" stroke-width="0.6" />
<line x1="317.5" y1="124.5" x2="317.5" y2="126.5" stroke="#333" stroke-width="0.6" />
<line x1="316.6" y1="124.5" x2="318.4" y2="124.5" stroke="#333" stroke-width="0.6" />
<line x1="316.6" y1="126.5" x2="318.4" y2="126.5" stroke="#333" stroke-width="0.6" />
<line x1="321.3" y1="124.5" x2="321.3" y2="126.5" stroke="#333" stroke-width="0.6" />
<line x1="320.4" y1="124.5" x2="322.2" y2="124.5" stroke="#333" stroke-width="0.6" />
<line x1="320.4" y1="126.5" x2="322.2" y2="126.5" stroke="#333" stroke-width="0.6" />
<line x1="325.1" y1="125.4" x2="325.1" y2="128.4" stroke="#333" stroke-width="0.6" />
<line x1="324.2" y1="125.4" x2="326.0" y2="125.4" stroke="#333" stroke-width="0.6" />
<line x1="324.2" y1="128.4" x2="326.0" y2="128.4" stroke="#333" stroke-width="0.6" />
<line x1="328.9" y1="122.8" x2="328.9" y2="125.8" stroke="#333" stroke-width="0.6" />
<line x1="328.0" y1="122.8" x2="329.8" y2="122.8" stroke="#333" stroke-width="0.6" />
<line x1="328.0" y1="125.8" x2="329.8" y2="125.8" stroke="#333" stroke-width="0.6" />
<line x1="332.7" y1="126.4" x2="332.7" y2="134.4" stroke="#333" stroke-width="0.6" />
<line x1="331.8" y1="126.4" x2="333.6" y2="126.4" stroke="#333" stroke-width="0.6" />
<line x1="331.8" y1="134.4" x2="333.6" y2="134.4" stroke="#333" stroke-width="0.6" />
<line x1="336.5" y1="121.8" x2="336.5" y2="125.8" stroke="#333" stroke-width="0.6" />
<line x1="335.6" y1="121.8" x2="337.4" y2="121.8" stroke="#333" stroke-width="0.6" />
<line x1="335.6" y1="125.8" x2="337.4" y2="125.8" stroke="#333" stroke-width="0.6" />
<polyline points="298.50,127.6 302.30,176.6 306.10,178 309.90,179.8 313.70,180.7 317.50,181.5 321.30,181.9 325.10,179.1 328.90,179.8 332.70,183.3 336.50,183.3" fill="none" stroke="#d0112b" stroke-width="0.9"/>
<circle cx="298.50" cy="127.6" r="1.65" fill="#d0112b"/>
<circle cx="302.30" cy="176.6" r="1.65" fill="#d0112b"/>
<circle cx="306.10" cy="178" r="1.65" fill="#d0112b"/>
<circle cx="309.90" cy="179.8" r="1.65" fill="#d0112b"/>
<circle cx="313.70" cy="180.7" r="1.65" fill="#d0112b"/>
<circle cx="317.50" cy="181.5" r="1.65" fill="#d0112b"/>
<circle cx="321.30" cy="181.9" r="1.65" fill="#d0112b"/>
<circle cx="325.10" cy="179.1" r="1.65" fill="#d0112b"/>
<circle cx="328.90" cy="179.8" r="1.65" fill="#d0112b"/>
<circle cx="332.70" cy="183.3" r="1.65" fill="#d0112b"/>
<circle cx="336.50" cy="183.3" r="1.65" fill="#d0112b"/>
<polyline points="298.50,127.6 302.30,127.6 306.10,133.9 309.90,128.1 313.70,126.4 317.50,125.5 321.30,125.5 325.10,126.9 328.90,124.3 332.70,130.4 336.50,123.8" fill="none" stroke="#0f589e" stroke-width="0.9"/>
<circle cx="298.50" cy="127.6" r="1.65" fill="#0f589e"/>
<circle cx="302.30" cy="127.6" r="1.65" fill="#0f589e"/>
<circle cx="306.10" cy="133.9" r="1.65" fill="#0f589e"/>
<circle cx="309.90" cy="128.1" r="1.65" fill="#0f589e"/>
<circle cx="313.70" cy="126.4" r="1.65" fill="#0f589e"/>
<circle cx="317.50" cy="125.5" r="1.65" fill="#0f589e"/>
<circle cx="321.30" cy="125.5" r="1.65" fill="#0f589e"/>
<circle cx="325.10" cy="126.9" r="1.65" fill="#0f589e"/>
<circle cx="328.90" cy="124.3" r="1.65" fill="#0f589e"/>
<circle cx="332.70" cy="130.4" r="1.65" fill="#0f589e"/>
<circle cx="336.50" cy="123.8" r="1.65" fill="#0f589e"/>
<line x1="346.55" y1="154" x2="346.55" y2="158" stroke="#333" stroke-width="0.6" />
<line x1="345.65" y1="154" x2="347.45" y2="154" stroke="#333" stroke-width="0.6" />
<line x1="345.65" y1="158" x2="347.45" y2="158" stroke="#333" stroke-width="0.6" />
<line x1="350.4" y1="157.4" x2="350.4" y2="160.4" stroke="#333" stroke-width="0.6" />
<line x1="349.5" y1="157.4" x2="351.3" y2="157.4" stroke="#333" stroke-width="0.6" />
<line x1="349.5" y1="160.4" x2="351.3" y2="160.4" stroke="#333" stroke-width="0.6" />
<line x1="354.25" y1="160.2" x2="354.25" y2="165.2" stroke="#333" stroke-width="0.6" />
<line x1="353.35" y1="160.2" x2="355.15" y2="160.2" stroke="#333" stroke-width="0.6" />
<line x1="353.35" y1="165.2" x2="355.15" y2="165.2" stroke="#333" stroke-width="0.6" />
<line x1="358.1" y1="164.5" x2="358.1" y2="170.5" stroke="#333" stroke-width="0.6" />
<line x1="357.2" y1="164.5" x2="359.0" y2="164.5" stroke="#333" stroke-width="0.6" />
<line x1="357.2" y1="170.5" x2="359.0" y2="170.5" stroke="#333" stroke-width="0.6" />
<line x1="361.95" y1="168.8" x2="361.95" y2="174.8" stroke="#333" stroke-width="0.6" />
<line x1="361.05" y1="168.8" x2="362.85" y2="168.8" stroke="#333" stroke-width="0.6" />
<line x1="361.05" y1="174.8" x2="362.85" y2="174.8" stroke="#333" stroke-width="0.6" />
<line x1="365.8" y1="173.2" x2="365.8" y2="178.2" stroke="#333" stroke-width="0.6" />
<line x1="364.9" y1="173.2" x2="366.7" y2="173.2" stroke="#333" stroke-width="0.6" />
<line x1="364.9" y1="178.2" x2="366.7" y2="178.2" stroke="#333" stroke-width="0.6" />
<line x1="369.65" y1="175.8" x2="369.65" y2="177.8" stroke="#333" stroke-width="0.6" />
<line x1="368.75" y1="175.8" x2="370.55" y2="175.8" stroke="#333" stroke-width="0.6" />
<line x1="368.75" y1="177.8" x2="370.55" y2="177.8" stroke="#333" stroke-width="0.6" />
<line x1="373.5" y1="176.7" x2="373.5" y2="178.7" stroke="#333" stroke-width="0.6" />
<line x1="372.6" y1="176.7" x2="374.4" y2="176.7" stroke="#333" stroke-width="0.6" />
<line x1="372.6" y1="178.7" x2="374.4" y2="178.7" stroke="#333" stroke-width="0.6" />
<line x1="377.35" y1="181.2" x2="377.35" y2="184.2" stroke="#333" stroke-width="0.6" />
<line x1="376.45" y1="181.2" x2="378.25" y2="181.2" stroke="#333" stroke-width="0.6" />
<line x1="376.45" y1="184.2" x2="378.25" y2="184.2" stroke="#333" stroke-width="0.6" />
<line x1="381.2" y1="181.3" x2="381.2" y2="185.3" stroke="#333" stroke-width="0.6" />
<line x1="380.3" y1="181.3" x2="382.1" y2="181.3" stroke="#333" stroke-width="0.6" />
<line x1="380.3" y1="185.3" x2="382.1" y2="185.3" stroke="#333" stroke-width="0.6" />
<line x1="346.55" y1="121.8" x2="346.55" y2="125.8" stroke="#333" stroke-width="0.6" />
<line x1="345.65" y1="121.8" x2="347.45" y2="121.8" stroke="#333" stroke-width="0.6" />
<line x1="345.65" y1="125.8" x2="347.45" y2="125.8" stroke="#333" stroke-width="0.6" />
<line x1="350.4" y1="127.5" x2="350.4" y2="129.5" stroke="#333" stroke-width="0.6" />
<line x1="349.5" y1="127.5" x2="351.3" y2="127.5" stroke="#333" stroke-width="0.6" />
<line x1="349.5" y1="129.5" x2="351.3" y2="129.5" stroke="#333" stroke-width="0.6" />
<line x1="354.25" y1="128.8" x2="354.25" y2="134.8" stroke="#333" stroke-width="0.6" />
<line x1="353.35" y1="128.8" x2="355.15" y2="128.8" stroke="#333" stroke-width="0.6" />
<line x1="353.35" y1="134.8" x2="355.15" y2="134.8" stroke="#333" stroke-width="0.6" />
<line x1="358.1" y1="107.7" x2="358.1" y2="128.7" stroke="#333" stroke-width="0.6" />
<line x1="357.2" y1="107.7" x2="359.0" y2="107.7" stroke="#333" stroke-width="0.6" />
<line x1="357.2" y1="128.7" x2="359.0" y2="128.7" stroke="#333" stroke-width="0.6" />
<line x1="361.95" y1="107.7" x2="361.95" y2="128.7" stroke="#333" stroke-width="0.6" />
<line x1="361.05" y1="107.7" x2="362.85" y2="107.7" stroke="#333" stroke-width="0.6" />
<line x1="361.05" y1="128.7" x2="362.85" y2="128.7" stroke="#333" stroke-width="0.6" />
<line x1="365.8" y1="127.5" x2="365.8" y2="129.5" stroke="#333" stroke-width="0.6" />
<line x1="364.9" y1="127.5" x2="366.7" y2="127.5" stroke="#333" stroke-width="0.6" />
<line x1="364.9" y1="129.5" x2="366.7" y2="129.5" stroke="#333" stroke-width="0.6" />
<line x1="369.65" y1="126.9" x2="369.65" y2="128.9" stroke="#333" stroke-width="0.6" />
<line x1="368.75" y1="126.9" x2="370.55" y2="126.9" stroke="#333" stroke-width="0.6" />
<line x1="368.75" y1="128.9" x2="370.55" y2="128.9" stroke="#333" stroke-width="0.6" />
<line x1="373.5" y1="111.2" x2="373.5" y2="127.2" stroke="#333" stroke-width="0.6" />
<line x1="372.6" y1="111.2" x2="374.4" y2="111.2" stroke="#333" stroke-width="0.6" />
<line x1="372.6" y1="127.2" x2="374.4" y2="127.2" stroke="#333" stroke-width="0.6" />
<line x1="377.35" y1="107.6" x2="377.35" y2="125.6" stroke="#333" stroke-width="0.6" />
<line x1="376.45" y1="107.6" x2="378.25" y2="107.6" stroke="#333" stroke-width="0.6" />
<line x1="376.45" y1="125.6" x2="378.25" y2="125.6" stroke="#333" stroke-width="0.6" />
<line x1="381.2" y1="109.4" x2="381.2" y2="127.4" stroke="#333" stroke-width="0.6" />
<line x1="380.3" y1="109.4" x2="382.1" y2="109.4" stroke="#333" stroke-width="0.6" />
<line x1="380.3" y1="127.4" x2="382.1" y2="127.4" stroke="#333" stroke-width="0.6" />
<polyline points="342.70,127.9 346.55,156 350.40,158.9 354.25,162.7 358.10,167.5 361.95,171.8 365.80,175.7 369.65,176.8 373.50,177.7 377.35,182.7 381.20,183.3" fill="none" stroke="#d0112b" stroke-width="0.9"/>
<circle cx="342.70" cy="127.9" r="1.65" fill="#d0112b"/>
<circle cx="346.55" cy="156" r="1.65" fill="#d0112b"/>
<circle cx="350.40" cy="158.9" r="1.65" fill="#d0112b"/>
<circle cx="354.25" cy="162.7" r="1.65" fill="#d0112b"/>
<circle cx="358.10" cy="167.5" r="1.65" fill="#d0112b"/>
<circle cx="361.95" cy="171.8" r="1.65" fill="#d0112b"/>
<circle cx="365.80" cy="175.7" r="1.65" fill="#d0112b"/>
<circle cx="369.65" cy="176.8" r="1.65" fill="#d0112b"/>
<circle cx="373.50" cy="177.7" r="1.65" fill="#d0112b"/>
<circle cx="377.35" cy="182.7" r="1.65" fill="#d0112b"/>
<circle cx="381.20" cy="183.3" r="1.65" fill="#d0112b"/>
<polyline points="342.70,127.9 346.55,123.8 350.40,128.5 354.25,131.8 358.10,118.2 361.95,118.2 365.80,128.5 369.65,127.9 373.50,119.2 377.35,116.6 381.20,118.4" fill="none" stroke="#0f589e" stroke-width="0.9"/>
<circle cx="342.70" cy="127.9" r="1.65" fill="#0f589e"/>
<circle cx="346.55" cy="123.8" r="1.65" fill="#0f589e"/>
<circle cx="350.40" cy="128.5" r="1.65" fill="#0f589e"/>
<circle cx="354.25" cy="131.8" r="1.65" fill="#0f589e"/>
<circle cx="358.10" cy="118.2" r="1.65" fill="#0f589e"/>
<circle cx="361.95" cy="118.2" r="1.65" fill="#0f589e"/>
<circle cx="365.80" cy="128.5" r="1.65" fill="#0f589e"/>
<circle cx="369.65" cy="127.9" r="1.65" fill="#0f589e"/>
<circle cx="373.50" cy="119.2" r="1.65" fill="#0f589e"/>
<circle cx="377.35" cy="116.6" r="1.65" fill="#0f589e"/>
<circle cx="381.20" cy="118.4" r="1.65" fill="#0f589e"/>
<line x1="390.75" y1="125.6" x2="390.75" y2="131.6" stroke="#333" stroke-width="0.6" />
<line x1="389.85" y1="125.6" x2="391.65" y2="125.6" stroke="#333" stroke-width="0.6" />
<line x1="389.85" y1="131.6" x2="391.65" y2="131.6" stroke="#333" stroke-width="0.6" />
<line x1="394.6" y1="125.4" x2="394.6" y2="131.4" stroke="#333" stroke-width="0.6" />
<line x1="393.7" y1="125.4" x2="395.5" y2="125.4" stroke="#333" stroke-width="0.6" />
<line x1="393.7" y1="131.4" x2="395.5" y2="131.4" stroke="#333" stroke-width="0.6" />
<line x1="398.45" y1="125.4" x2="398.45" y2="131.4" stroke="#333" stroke-width="0.6" />
<line x1="397.55" y1="125.4" x2="399.35" y2="125.4" stroke="#333" stroke-width="0.6" />
<line x1="397.55" y1="131.4" x2="399.35" y2="131.4" stroke="#333" stroke-width="0.6" />
<line x1="402.3" y1="125.6" x2="402.3" y2="129.6" stroke="#333" stroke-width="0.6" />
<line x1="401.4" y1="125.6" x2="403.2" y2="125.6" stroke="#333" stroke-width="0.6" />
<line x1="401.4" y1="129.6" x2="403.2" y2="129.6" stroke="#333" stroke-width="0.6" />
<line x1="406.15" y1="123.5" x2="406.15" y2="127.5" stroke="#333" stroke-width="0.6" />
<line x1="405.25" y1="123.5" x2="407.05" y2="123.5" stroke="#333" stroke-width="0.6" />
<line x1="405.25" y1="127.5" x2="407.05" y2="127.5" stroke="#333" stroke-width="0.6" />
<line x1="410.0" y1="124.9" x2="410.0" y2="128.9" stroke="#333" stroke-width="0.6" />
<line x1="409.1" y1="124.9" x2="410.9" y2="124.9" stroke="#333" stroke-width="0.6" />
<line x1="409.1" y1="128.9" x2="410.9" y2="128.9" stroke="#333" stroke-width="0.6" />
<line x1="413.85" y1="122.5" x2="413.85" y2="128.5" stroke="#333" stroke-width="0.6" />
<line x1="412.95" y1="122.5" x2="414.75" y2="122.5" stroke="#333" stroke-width="0.6" />
<line x1="412.95" y1="128.5" x2="414.75" y2="128.5" stroke="#333" stroke-width="0.6" />
<line x1="417.7" y1="124" x2="417.7" y2="128" stroke="#333" stroke-width="0.6" />
<line x1="416.8" y1="124" x2="418.6" y2="124" stroke="#333" stroke-width="0.6" />
<line x1="416.8" y1="128" x2="418.6" y2="128" stroke="#333" stroke-width="0.6" />
<line x1="421.55" y1="125.9" x2="421.55" y2="129.9" stroke="#333" stroke-width="0.6" />
<line x1="420.65" y1="125.9" x2="422.45" y2="125.9" stroke="#333" stroke-width="0.6" />
<line x1="420.65" y1="129.9" x2="422.45" y2="129.9" stroke="#333" stroke-width="0.6" />
<line x1="425.4" y1="127.3" x2="425.4" y2="129.3" stroke="#333" stroke-width="0.6" />
<line x1="424.5" y1="127.3" x2="426.3" y2="127.3" stroke="#333" stroke-width="0.6" />
<line x1="424.5" y1="129.3" x2="426.3" y2="129.3" stroke="#333" stroke-width="0.6" />
<line x1="390.75" y1="124.6" x2="390.75" y2="128.6" stroke="#333" stroke-width="0.6" />
<line x1="389.85" y1="124.6" x2="391.65" y2="124.6" stroke="#333" stroke-width="0.6" />
<line x1="389.85" y1="128.6" x2="391.65" y2="128.6" stroke="#333" stroke-width="0.6" />
<line x1="394.6" y1="123.5" x2="394.6" y2="127.5" stroke="#333" stroke-width="0.6" />
<line x1="393.7" y1="123.5" x2="395.5" y2="123.5" stroke="#333" stroke-width="0.6" />
<line x1="393.7" y1="127.5" x2="395.5" y2="127.5" stroke="#333" stroke-width="0.6" />
<line x1="398.45" y1="124" x2="398.45" y2="128" stroke="#333" stroke-width="0.6" />
<line x1="397.55" y1="124" x2="399.35" y2="124" stroke="#333" stroke-width="0.6" />
<line x1="397.55" y1="128" x2="399.35" y2="128" stroke="#333" stroke-width="0.6" />
<line x1="402.3" y1="122.4" x2="402.3" y2="126.4" stroke="#333" stroke-width="0.6" />
<line x1="401.4" y1="122.4" x2="403.2" y2="122.4" stroke="#333" stroke-width="0.6" />
<line x1="401.4" y1="126.4" x2="403.2" y2="126.4" stroke="#333" stroke-width="0.6" />
<line x1="406.15" y1="123" x2="406.15" y2="129" stroke="#333" stroke-width="0.6" />
<line x1="405.25" y1="123" x2="407.05" y2="123" stroke="#333" stroke-width="0.6" />
<line x1="405.25" y1="129" x2="407.05" y2="129" stroke="#333" stroke-width="0.6" />
<line x1="410.0" y1="121.1" x2="410.0" y2="125.1" stroke="#333" stroke-width="0.6" />
<line x1="409.1" y1="121.1" x2="410.9" y2="121.1" stroke="#333" stroke-width="0.6" />
<line x1="409.1" y1="125.1" x2="410.9" y2="125.1" stroke="#333" stroke-width="0.6" />
<line x1="413.85" y1="108.1" x2="413.85" y2="120.1" stroke="#333" stroke-width="0.6" />
<line x1="412.95" y1="108.1" x2="414.75" y2="108.1" stroke="#333" stroke-width="0.6" />
<line x1="412.95" y1="120.1" x2="414.75" y2="120.1" stroke="#333" stroke-width="0.6" />
<line x1="417.7" y1="109.8" x2="417.7" y2="127.8" stroke="#333" stroke-width="0.6" />
<line x1="416.8" y1="109.8" x2="418.6" y2="109.8" stroke="#333" stroke-width="0.6" />
<line x1="416.8" y1="127.8" x2="418.6" y2="127.8" stroke="#333" stroke-width="0.6" />
<line x1="421.55" y1="130.2" x2="421.55" y2="145.2" stroke="#333" stroke-width="0.6" />
<line x1="420.65" y1="130.2" x2="422.45" y2="130.2" stroke="#333" stroke-width="0.6" />
<line x1="420.65" y1="145.2" x2="422.45" y2="145.2" stroke="#333" stroke-width="0.6" />
<line x1="425.4" y1="116.1" x2="425.4" y2="123.1" stroke="#333" stroke-width="0.6" />
<line x1="424.5" y1="116.1" x2="426.3" y2="116.1" stroke="#333" stroke-width="0.6" />
<line x1="424.5" y1="123.1" x2="426.3" y2="123.1" stroke="#333" stroke-width="0.6" />
<polyline points="386.90,127.9 390.75,128.6 394.60,128.4 398.45,128.4 402.30,127.6 406.15,125.5 410.00,126.9 413.85,125.5 417.70,126 421.55,127.9 425.40,128.3" fill="none" stroke="#d0112b" stroke-width="0.9"/>
<circle cx="386.90" cy="127.9" r="1.65" fill="#d0112b"/>
<circle cx="390.75" cy="128.6" r="1.65" fill="#d0112b"/>
<circle cx="394.60" cy="128.4" r="1.65" fill="#d0112b"/>
<circle cx="398.45" cy="128.4" r="1.65" fill="#d0112b"/>
<circle cx="402.30" cy="127.6" r="1.65" fill="#d0112b"/>
<circle cx="406.15" cy="125.5" r="1.65" fill="#d0112b"/>
<circle cx="410.00" cy="126.9" r="1.65" fill="#d0112b"/>
<circle cx="413.85" cy="125.5" r="1.65" fill="#d0112b"/>
<circle cx="417.70" cy="126" r="1.65" fill="#d0112b"/>
<circle cx="421.55" cy="127.9" r="1.65" fill="#d0112b"/>
<circle cx="425.40" cy="128.3" r="1.65" fill="#d0112b"/>
<polyline points="386.90,127.9 390.75,126.6 394.60,125.5 398.45,126 402.30,124.4 406.15,126 410.00,123.1 413.85,114.1 417.70,118.8 421.55,137.7 425.40,119.6" fill="none" stroke="#0f589e" stroke-width="0.9"/>
<circle cx="386.90" cy="127.9" r="1.65" fill="#0f589e"/>
<circle cx="390.75" cy="126.6" r="1.65" fill="#0f589e"/>
<circle cx="394.60" cy="125.5" r="1.65" fill="#0f589e"/>
<circle cx="398.45" cy="126" r="1.65" fill="#0f589e"/>
<circle cx="402.30" cy="124.4" r="1.65" fill="#0f589e"/>
<circle cx="406.15" cy="126" r="1.65" fill="#0f589e"/>
<circle cx="410.00" cy="123.1" r="1.65" fill="#0f589e"/>
<circle cx="413.85" cy="114.1" r="1.65" fill="#0f589e"/>
<circle cx="417.70" cy="118.8" r="1.65" fill="#0f589e"/>
<circle cx="421.55" cy="137.7" r="1.65" fill="#0f589e"/>
<circle cx="425.40" cy="119.6" r="1.65" fill="#0f589e"/>
<line x1="435.2" y1="124.2" x2="435.2" y2="128.2" stroke="#333" stroke-width="0.6" />
<line x1="434.3" y1="124.2" x2="436.1" y2="124.2" stroke="#333" stroke-width="0.6" />
<line x1="434.3" y1="128.2" x2="436.1" y2="128.2" stroke="#333" stroke-width="0.6" />
<line x1="439.0" y1="124.6" x2="439.0" y2="128.6" stroke="#333" stroke-width="0.6" />
<line x1="438.1" y1="124.6" x2="439.9" y2="124.6" stroke="#333" stroke-width="0.6" />
<line x1="438.1" y1="128.6" x2="439.9" y2="128.6" stroke="#333" stroke-width="0.6" />
<line x1="442.8" y1="123.2" x2="442.8" y2="127.2" stroke="#333" stroke-width="0.6" />
<line x1="441.9" y1="123.2" x2="443.7" y2="123.2" stroke="#333" stroke-width="0.6" />
<line x1="441.9" y1="127.2" x2="443.7" y2="127.2" stroke="#333" stroke-width="0.6" />
<line x1="446.6" y1="124.6" x2="446.6" y2="128.6" stroke="#333" stroke-width="0.6" />
<line x1="445.7" y1="124.6" x2="447.5" y2="124.6" stroke="#333" stroke-width="0.6" />
<line x1="445.7" y1="128.6" x2="447.5" y2="128.6" stroke="#333" stroke-width="0.6" />
<line x1="450.4" y1="122.2" x2="450.4" y2="126.2" stroke="#333" stroke-width="0.6" />
<line x1="449.5" y1="122.2" x2="451.3" y2="122.2" stroke="#333" stroke-width="0.6" />
<line x1="449.5" y1="126.2" x2="451.3" y2="126.2" stroke="#333" stroke-width="0.6" />
<line x1="454.2" y1="122.2" x2="454.2" y2="126.2" stroke="#333" stroke-width="0.6" />
<line x1="453.3" y1="122.2" x2="455.1" y2="122.2" stroke="#333" stroke-width="0.6" />
<line x1="453.3" y1="126.2" x2="455.1" y2="126.2" stroke="#333" stroke-width="0.6" />
<line x1="458.0" y1="123.2" x2="458.0" y2="127.2" stroke="#333" stroke-width="0.6" />
<line x1="457.1" y1="123.2" x2="458.9" y2="123.2" stroke="#333" stroke-width="0.6" />
<line x1="457.1" y1="127.2" x2="458.9" y2="127.2" stroke="#333" stroke-width="0.6" />
<line x1="461.8" y1="120.3" x2="461.8" y2="124.3" stroke="#333" stroke-width="0.6" />
<line x1="460.9" y1="120.3" x2="462.7" y2="120.3" stroke="#333" stroke-width="0.6" />
<line x1="460.9" y1="124.3" x2="462.7" y2="124.3" stroke="#333" stroke-width="0.6" />
<line x1="465.6" y1="122.2" x2="465.6" y2="126.2" stroke="#333" stroke-width="0.6" />
<line x1="464.7" y1="122.2" x2="466.5" y2="122.2" stroke="#333" stroke-width="0.6" />
<line x1="464.7" y1="126.2" x2="466.5" y2="126.2" stroke="#333" stroke-width="0.6" />
<line x1="469.4" y1="128.5" x2="469.4" y2="132.5" stroke="#333" stroke-width="0.6" />
<line x1="468.5" y1="128.5" x2="470.3" y2="128.5" stroke="#333" stroke-width="0.6" />
<line x1="468.5" y1="132.5" x2="470.3" y2="132.5" stroke="#333" stroke-width="0.6" />
<line x1="435.2" y1="126.6" x2="435.2" y2="130.6" stroke="#333" stroke-width="0.6" />
<line x1="434.3" y1="126.6" x2="436.1" y2="126.6" stroke="#333" stroke-width="0.6" />
<line x1="434.3" y1="130.6" x2="436.1" y2="130.6" stroke="#333" stroke-width="0.6" />
<line x1="439.0" y1="128.5" x2="439.0" y2="132.5" stroke="#333" stroke-width="0.6" />
<line x1="438.1" y1="128.5" x2="439.9" y2="128.5" stroke="#333" stroke-width="0.6" />
<line x1="438.1" y1="132.5" x2="439.9" y2="132.5" stroke="#333" stroke-width="0.6" />
<line x1="442.8" y1="124.6" x2="442.8" y2="128.6" stroke="#333" stroke-width="0.6" />
<line x1="441.9" y1="124.6" x2="443.7" y2="124.6" stroke="#333" stroke-width="0.6" />
<line x1="441.9" y1="128.6" x2="443.7" y2="128.6" stroke="#333" stroke-width="0.6" />
<line x1="446.6" y1="127.5" x2="446.6" y2="131.5" stroke="#333" stroke-width="0.6" />
<line x1="445.7" y1="127.5" x2="447.5" y2="127.5" stroke="#333" stroke-width="0.6" />
<line x1="445.7" y1="131.5" x2="447.5" y2="131.5" stroke="#333" stroke-width="0.6" />
<line x1="450.4" y1="125.3" x2="450.4" y2="129.3" stroke="#333" stroke-width="0.6" />
<line x1="449.5" y1="125.3" x2="451.3" y2="125.3" stroke="#333" stroke-width="0.6" />
<line x1="449.5" y1="129.3" x2="451.3" y2="129.3" stroke="#333" stroke-width="0.6" />
<line x1="454.2" y1="125.3" x2="454.2" y2="129.3" stroke="#333" stroke-width="0.6" />
<line x1="453.3" y1="125.3" x2="455.1" y2="125.3" stroke="#333" stroke-width="0.6" />
<line x1="453.3" y1="129.3" x2="455.1" y2="129.3" stroke="#333" stroke-width="0.6" />
<line x1="458.0" y1="126.6" x2="458.0" y2="130.6" stroke="#333" stroke-width="0.6" />
<line x1="457.1" y1="126.6" x2="458.9" y2="126.6" stroke="#333" stroke-width="0.6" />
<line x1="457.1" y1="130.6" x2="458.9" y2="130.6" stroke="#333" stroke-width="0.6" />
<line x1="461.8" y1="124.2" x2="461.8" y2="128.2" stroke="#333" stroke-width="0.6" />
<line x1="460.9" y1="124.2" x2="462.7" y2="124.2" stroke="#333" stroke-width="0.6" />
<line x1="460.9" y1="128.2" x2="462.7" y2="128.2" stroke="#333" stroke-width="0.6" />
<line x1="465.6" y1="131.7" x2="465.6" y2="135.7" stroke="#333" stroke-width="0.6" />
<line x1="464.7" y1="131.7" x2="466.5" y2="131.7" stroke="#333" stroke-width="0.6" />
<line x1="464.7" y1="135.7" x2="466.5" y2="135.7" stroke="#333" stroke-width="0.6" />
<line x1="469.4" y1="118.7" x2="469.4" y2="122.7" stroke="#333" stroke-width="0.6" />
<line x1="468.5" y1="118.7" x2="470.3" y2="118.7" stroke="#333" stroke-width="0.6" />
<line x1="468.5" y1="122.7" x2="470.3" y2="122.7" stroke="#333" stroke-width="0.6" />
<polyline points="431.40,127.9 435.20,126.2 439.00,126.6 442.80,125.2 446.60,126.6 450.40,124.2 454.20,124.2 458.00,125.2 461.80,122.3 465.60,124.2 469.40,130.5" fill="none" stroke="#d0112b" stroke-width="0.9"/>
<circle cx="431.40" cy="127.9" r="1.65" fill="#d0112b"/>
<circle cx="435.20" cy="126.2" r="1.65" fill="#d0112b"/>
<circle cx="439.00" cy="126.6" r="1.65" fill="#d0112b"/>
<circle cx="442.80" cy="125.2" r="1.65" fill="#d0112b"/>
<circle cx="446.60" cy="126.6" r="1.65" fill="#d0112b"/>
<circle cx="450.40" cy="124.2" r="1.65" fill="#d0112b"/>
<circle cx="454.20" cy="124.2" r="1.65" fill="#d0112b"/>
<circle cx="458.00" cy="125.2" r="1.65" fill="#d0112b"/>
<circle cx="461.80" cy="122.3" r="1.65" fill="#d0112b"/>
<circle cx="465.60" cy="124.2" r="1.65" fill="#d0112b"/>
<circle cx="469.40" cy="130.5" r="1.65" fill="#d0112b"/>
<polyline points="431.40,127.9 435.20,128.6 439.00,130.5 442.80,126.6 446.60,129.5 450.40,127.3 454.20,127.3 458.00,128.6 461.80,126.2 465.60,133.7 469.40,120.7" fill="none" stroke="#0f589e" stroke-width="0.9"/>
<circle cx="431.40" cy="127.9" r="1.65" fill="#0f589e"/>
<circle cx="435.20" cy="128.6" r="1.65" fill="#0f589e"/>
<circle cx="439.00" cy="130.5" r="1.65" fill="#0f589e"/>
<circle cx="442.80" cy="126.6" r="1.65" fill="#0f589e"/>
<circle cx="446.60" cy="129.5" r="1.65" fill="#0f589e"/>
<circle cx="450.40" cy="127.3" r="1.65" fill="#0f589e"/>
<circle cx="454.20" cy="127.3" r="1.65" fill="#0f589e"/>
<circle cx="458.00" cy="128.6" r="1.65" fill="#0f589e"/>
<circle cx="461.80" cy="126.2" r="1.65" fill="#0f589e"/>
<circle cx="465.60" cy="133.7" r="1.65" fill="#0f589e"/>
<circle cx="469.40" cy="120.7" r="1.65" fill="#0f589e"/>
<line x1="121.5" y1="45.9" x2="123.1" y2="45.9" stroke="#6a6a6a" stroke-width="0.55" />
<line x1="121.5" y1="47.45" x2="123.1" y2="47.45" stroke="#6a6a6a" stroke-width="0.55" />
<line x1="121.5" y1="49.0" x2="123.1" y2="49.0" stroke="#6a6a6a" stroke-width="0.55" />
<line x1="121.5" y1="50.55" x2="123.1" y2="50.55" stroke="#6a6a6a" stroke-width="0.55" />
<line x1="121.5" y1="52.1" x2="123.1" y2="52.1" stroke="#6a6a6a" stroke-width="0.55" />
<line x1="121.5" y1="53.65" x2="123.1" y2="53.65" stroke="#6a6a6a" stroke-width="0.55" />
<line x1="121.5" y1="55.2" x2="123.1" y2="55.2" stroke="#6a6a6a" stroke-width="0.55" />
<line x1="121.5" y1="56.75" x2="123.1" y2="56.75" stroke="#6a6a6a" stroke-width="0.55" />
<line x1="121.5" y1="58.3" x2="123.1" y2="58.3" stroke="#6a6a6a" stroke-width="0.55" />
<line x1="121.5" y1="59.85" x2="123.1" y2="59.85" stroke="#6a6a6a" stroke-width="0.55" />
<line x1="157.1" y1="45.9" x2="158.7" y2="45.9" stroke="#6a6a6a" stroke-width="0.55" />
<line x1="157.1" y1="47.45" x2="158.7" y2="47.45" stroke="#6a6a6a" stroke-width="0.55" />
<line x1="157.1" y1="49.0" x2="158.7" y2="49.0" stroke="#6a6a6a" stroke-width="0.55" />
<line x1="157.1" y1="50.55" x2="158.7" y2="50.55" stroke="#6a6a6a" stroke-width="0.55" />
<line x1="157.1" y1="52.1" x2="158.7" y2="52.1" stroke="#6a6a6a" stroke-width="0.55" />
<line x1="157.1" y1="53.65" x2="158.7" y2="53.65" stroke="#6a6a6a" stroke-width="0.55" />
<line x1="157.1" y1="55.2" x2="158.7" y2="55.2" stroke="#6a6a6a" stroke-width="0.55" />
<line x1="157.1" y1="56.75" x2="158.7" y2="56.75" stroke="#6a6a6a" stroke-width="0.55" />
<line x1="157.1" y1="58.3" x2="158.7" y2="58.3" stroke="#6a6a6a" stroke-width="0.55" />
<line x1="157.1" y1="59.85" x2="158.7" y2="59.85" stroke="#6a6a6a" stroke-width="0.55" />
<path d="M121.9,61.1 H158.3 V65.3 Q140.10000000000002,71.6 121.9,65.3 Z" fill="#585858"/>
<circle cx="131.4" cy="58.2" r="3.0" fill="#c2c2c8"/>
<circle cx="140.1" cy="58.2" r="3.0" fill="#c2c2c8"/>
<circle cx="148.1" cy="58.2" r="3.0" fill="#c2c2c8"/>
<line x1="117" y1="53" x2="127.4" y2="53" stroke="#d0112b" stroke-width="1.1" />
<line x1="127.8" y1="50.2" x2="127.8" y2="56" stroke="#d0112b" stroke-width="1.3" />
<path d="M139.95,38.1 V45.8" stroke="#b8b8b8" stroke-width="1.60"/>
<path d="M138.6,38.1 V45.4 L137.40,46.80" fill="none" stroke="#454545" stroke-width="1.1"/>
<path d="M141.3,38.1 V45.4 L142.50,46.80" fill="none" stroke="#454545" stroke-width="1.1"/>
<path d="M137.4,46.8 L135.1,50.5" stroke="#d0112b" stroke-width="2.5" stroke-linecap="butt"/>
<path d="M142.5,46.8 L144.8,50.5" stroke="#d0112b" stroke-width="2.5" stroke-linecap="butt"/>
<path d="M137.70000000000002,46.4 L137.05,47.25" stroke="#2f6f6a" stroke-width="2.5" stroke-linecap="butt"/>
<path d="M142.2,46.4 L142.85,47.25" stroke="#2f6f6a" stroke-width="2.5" stroke-linecap="butt"/>
<path d="M135.75,48.05 l0.6,0.5 l-0.4,0.6" fill="none" stroke="#fff" stroke-width="0.35"/>
<path d="M144.15,48.05 l-0.6,0.5 l0.4,0.6" fill="none" stroke="#fff" stroke-width="0.35"/>
<polyline points="130.80,53.90 131.42,53.60 131.99,53.28 132.45,52.90 132.78,52.45 132.95,51.93 132.99,51.33 132.92,50.68 132.80,50.00 132.68,49.32 132.61,48.67 132.65,48.07 132.82,47.55 133.15,47.10 133.61,46.72 134.18,46.40 134.80,46.10" fill="none" stroke="#5b90c6" stroke-width="0.8" stroke-linecap="round"/>
<polyline points="147.20,53.40 147.83,53.10 148.39,52.76 148.86,52.38 149.18,51.92 149.36,51.39 149.39,50.79 149.33,50.13 149.20,49.45 149.07,48.77 149.01,48.11 149.04,47.51 149.22,46.98 149.54,46.52 150.01,46.14 150.57,45.80 151.20,45.50" fill="none" stroke="#5b90c6" stroke-width="0.8" stroke-linecap="round"/>
<polygon points="147.29,20.05 145.90,20.51 146.30,21.93 144.88,21.56 144.45,22.97 143.45,21.90 142.33,22.85 142.07,21.40 140.61,21.60 141.18,20.24 139.84,19.62 141.05,18.78 140.27,17.54 141.74,17.49 141.75,16.02 143.01,16.77 143.82,15.54 144.47,16.85 145.82,16.25 145.66,17.71 147.11,17.93 146.19,19.08" fill="#f5b01c"/>
<path d="M142.6,25.9 L136.0,28.9" stroke="#111" stroke-width="2.7" stroke-linecap="butt"/>
<path d="M144.8,27.4 L141.0,34.7" stroke="#111" stroke-width="2.7" stroke-linecap="butt"/>
<path d="M142.6,25.9 L143.6,26.3 L144.8,27.4" fill="none" stroke="#111" stroke-width="2.16" stroke-linejoin="round"/>
<path d="M143.6,26.3 L148.8,21.8" stroke="#111" stroke-width="2.4" stroke-linecap="butt"/>
<path d="M144.38,25.625 L148.8,21.8" stroke="#fff" stroke-width="0.35" stroke-linecap="butt"/>
<text x="161.5" y="22.5" font-size="6.8" text-anchor="start" fill="#222" textLength="34.2" lengthAdjust="spacingAndGlyphs" >4. Substrate</text>
<text x="161.5" y="34.6" font-size="6.8" text-anchor="start" fill="#222" textLength="86.9" lengthAdjust="spacingAndGlyphs" >3. Antibody-enzyme conjugate</text>
<text x="161.5" y="47.7" font-size="6.8" text-anchor="start" fill="#222" textLength="79.5" lengthAdjust="spacingAndGlyphs" >2. VITT sera + anticoagulant</text>
<text x="161.5" y="61" font-size="6.8" text-anchor="start" fill="#222" textLength="17.2" lengthAdjust="spacingAndGlyphs" >1. PF4</text>
<line x1="362.7" y1="49.2" x2="364.3" y2="49.2" stroke="#6a6a6a" stroke-width="0.55" />
<line x1="362.7" y1="50.75" x2="364.3" y2="50.75" stroke="#6a6a6a" stroke-width="0.55" />
<line x1="362.7" y1="52.3" x2="364.3" y2="52.3" stroke="#6a6a6a" stroke-width="0.55" />
<line x1="362.7" y1="53.85" x2="364.3" y2="53.85" stroke="#6a6a6a" stroke-width="0.55" />
<line x1="362.7" y1="55.4" x2="364.3" y2="55.4" stroke="#6a6a6a" stroke-width="0.55" />
<line x1="362.7" y1="56.95" x2="364.3" y2="56.95" stroke="#6a6a6a" stroke-width="0.55" />
<line x1="362.7" y1="58.5" x2="364.3" y2="58.5" stroke="#6a6a6a" stroke-width="0.55" />
<line x1="362.7" y1="60.05" x2="364.3" y2="60.05" stroke="#6a6a6a" stroke-width="0.55" />
<line x1="362.7" y1="61.6" x2="364.3" y2="61.6" stroke="#6a6a6a" stroke-width="0.55" />
<line x1="362.7" y1="63.15" x2="364.3" y2="63.15" stroke="#6a6a6a" stroke-width="0.55" />
<line x1="397.8" y1="49.2" x2="399.4" y2="49.2" stroke="#6a6a6a" stroke-width="0.55" />
<line x1="397.8" y1="50.75" x2="399.4" y2="50.75" stroke="#6a6a6a" stroke-width="0.55" />
<line x1="397.8" y1="52.3" x2="399.4" y2="52.3" stroke="#6a6a6a" stroke-width="0.55" />
<line x1="397.8" y1="53.85" x2="399.4" y2="53.85" stroke="#6a6a6a" stroke-width="0.55" />
<line x1="397.8" y1="55.4" x2="399.4" y2="55.4" stroke="#6a6a6a" stroke-width="0.55" />
<line x1="397.8" y1="56.95" x2="399.4" y2="56.95" stroke="#6a6a6a" stroke-width="0.55" />
<line x1="397.8" y1="58.5" x2="399.4" y2="58.5" stroke="#6a6a6a" stroke-width="0.55" />
<line x1="397.8" y1="60.05" x2="399.4" y2="60.05" stroke="#6a6a6a" stroke-width="0.55" />
<line x1="397.8" y1="61.6" x2="399.4" y2="61.6" stroke="#6a6a6a" stroke-width="0.55" />
<line x1="397.8" y1="63.15" x2="399.4" y2="63.15" stroke="#6a6a6a" stroke-width="0.55" />
<path d="M363.1,64.0 H399.0 V68.2 Q381.05,74.5 363.1,68.2 Z" fill="#585858"/>
<circle cx="372" cy="61.2" r="2.95" fill="#c2c2c8"/>
<circle cx="380.8" cy="61.2" r="2.95" fill="#c2c2c8"/>
<circle cx="388.9" cy="61.2" r="2.95" fill="#c2c2c8"/>
<path d="M380.8,46.2 V54.0" stroke="#b8b8b8" stroke-width="1.30"/>
<path d="M379.6,46.2 V53.6 L378.40,55.00" fill="none" stroke="#454545" stroke-width="1.1"/>
<path d="M382.0,46.2 V53.6 L383.20,55.00" fill="none" stroke="#454545" stroke-width="1.1"/>
<path d="M378.40000000000003,55.0 L375.8,59.2" stroke="#d0112b" stroke-width="2.5" stroke-linecap="butt"/>
<path d="M383.2,55.0 L385.8,59.2" stroke="#d0112b" stroke-width="2.5" stroke-linecap="butt"/>
<path d="M378.70000000000005,54.6 L378.05,55.45" stroke="#2f6f6a" stroke-width="2.5" stroke-linecap="butt"/>
<path d="M382.9,54.6 L383.55,55.45" stroke="#2f6f6a" stroke-width="2.5" stroke-linecap="butt"/>
<path d="M376.60,56.50 l0.6,0.5 l-0.4,0.6" fill="none" stroke="#fff" stroke-width="0.35"/>
<path d="M385.00,56.50 l-0.6,0.5 l0.4,0.6" fill="none" stroke="#fff" stroke-width="0.35"/>
<circle cx="367.6" cy="47.5" r="0.9" fill="#d0112b"/>
<path d="M367.6,47.5 c1.2,0.2 1.6,1.6 2.2,2.6 c0.6,1 0.6,2.4 1.6,3.2 c0.8,0.6 2,0.6 3.3,0.9" fill="none" stroke="#d0112b" stroke-width="0.9"/>
<circle cx="387.4" cy="58.1" r="0.9" fill="#1d5fa6"/>
<path d="M387.4,58.1 c1.2,-1 2.2,-2.2 3.2,-3.8 c0.8,-1.2 1.4,-2.6 2.2,-3.8 c0.8,-1.2 1.8,-2.8 3,-4" fill="none" stroke="#1d5fa6" stroke-width="0.9"/>
<polyline points="374.30,49.60 374.94,49.29 375.52,48.95 375.99,48.55 376.33,48.08 376.51,47.54 376.57,46.92 376.51,46.25 376.40,45.55 376.29,44.85 376.23,44.18 376.29,43.56 376.47,43.02 376.81,42.55 377.28,42.15 377.86,41.81 378.50,41.50" fill="none" stroke="#5b90c6" stroke-width="0.8" stroke-linecap="round"/>
<polyline points="385.90,46.40 386.51,46.09 387.07,45.76 387.51,45.37 387.82,44.92 387.97,44.40 387.99,43.81 387.90,43.17 387.75,42.50 387.60,41.83 387.51,41.19 387.53,40.60 387.68,40.08 387.99,39.63 388.43,39.24 388.99,38.91 389.60,38.60" fill="none" stroke="#5b90c6" stroke-width="0.8" stroke-linecap="round"/>
<polygon points="379.92,24.14 378.36,24.65 378.82,26.23 377.23,25.83 376.75,27.40 375.63,26.20 374.39,27.26 374.10,25.65 372.47,25.87 373.10,24.35 371.61,23.66 372.96,22.72 372.08,21.34 373.72,21.28 373.73,19.64 375.14,20.48 376.04,19.10 376.77,20.57 378.27,19.90 378.10,21.53 379.72,21.77 378.69,23.05" fill="#f5b01c"/>
<path d="M383.3,29.8 L376.9,32.4" stroke="#111" stroke-width="2.6" stroke-linecap="butt"/>
<path d="M385.2,31.8 L382.1,37.7" stroke="#111" stroke-width="2.6" stroke-linecap="butt"/>
<path d="M383.3,29.8 L384.6,30.3 L385.2,31.8" fill="none" stroke="#111" stroke-width="2.08" stroke-linejoin="round"/>
<path d="M384.6,30.3 L389.6,25.8" stroke="#111" stroke-width="2.5" stroke-linecap="butt"/>
<path d="M385.35,29.625 L389.6,25.8" stroke="#fff" stroke-width="0.35" stroke-linecap="butt"/>
<text x="403.8" y="22.6" font-size="6.7" text-anchor="start" fill="#222" textLength="34.5" lengthAdjust="spacingAndGlyphs" >5. Substrate</text>
<text x="403.8" y="33.6" font-size="6.7" text-anchor="start" fill="#222" textLength="87.2" lengthAdjust="spacingAndGlyphs" >4. Antibody-enzyme conjugate</text>
<text x="403.8" y="44.6" font-size="6.7" text-anchor="start" fill="#222" textLength="46.6" lengthAdjust="spacingAndGlyphs" >3. Anticoagulant</text>
<text x="403.8" y="55.6" font-size="6.7" text-anchor="start" fill="#222" textLength="33.2" lengthAdjust="spacingAndGlyphs" >2. VITT sera</text>
<text x="403.8" y="66.5" font-size="6.7" text-anchor="start" fill="#222" textLength="17.5" lengthAdjust="spacingAndGlyphs" >1. PF4</text>
<circle cx="452.8" cy="60" r="1.5" fill="#d0112b"/>
<circle cx="452.8" cy="69.5" r="1.5" fill="#0f589e"/>
<text x="457.4" y="62" font-size="6.8" text-anchor="start" fill="#222" textLength="55.6" lengthAdjust="spacingAndGlyphs" >VITT+anticoagulant</text>
<text x="457.4" y="71.2" font-size="6.8" text-anchor="start" fill="#222" textLength="36.9" lengthAdjust="spacingAndGlyphs" >VITT+vehicle</text>
<text x="13.9" y="367.3" font-size="9.3" text-anchor="middle" fill="#222" textLength="66" lengthAdjust="spacingAndGlyphs" transform="rotate(-90 13.9 367.3)" >IgG binding to PLTs</text>
<text x="25.0" y="367.2" font-size="9.3" text-anchor="middle" fill="#222" textLength="86" lengthAdjust="spacingAndGlyphs" transform="rotate(-90 25.0 367.2)" >(FI normalized to control)</text>
<text x="36.9" y="326.2" font-size="8.4" text-anchor="end" fill="#222" textLength="8.6" lengthAdjust="spacingAndGlyphs" >30</text>
<line x1="40.1" y1="323.3" x2="43.6" y2="323.3" stroke="#222" stroke-width="1" />
<text x="36.9" y="356.9" font-size="8.4" text-anchor="end" fill="#222" textLength="8.6" lengthAdjust="spacingAndGlyphs" >20</text>
<line x1="40.1" y1="354.0" x2="43.6" y2="354.0" stroke="#222" stroke-width="1" />
<text x="36.9" y="387.09999999999997" font-size="8.4" text-anchor="end" fill="#222" textLength="8.6" lengthAdjust="spacingAndGlyphs" >10</text>
<line x1="40.1" y1="384.2" x2="43.6" y2="384.2" stroke="#222" stroke-width="1" />
<text x="36.9" y="417.2" font-size="8.4" text-anchor="end" fill="#222" textLength="4.4" lengthAdjust="spacingAndGlyphs" >0</text>
<line x1="40.1" y1="414.3" x2="43.6" y2="414.3" stroke="#222" stroke-width="1" />
<line x1="40.4" y1="411.3" x2="254.2" y2="411.3" stroke="#4a4a4a" stroke-width="1.3" stroke-dasharray="3,2.2"/>
<line x1="43.6" y1="320" x2="43.6" y2="414.90000000000003" stroke="#222" stroke-width="1.4" />
<line x1="40.1" y1="414.3" x2="254.7" y2="414.3" stroke="#222" stroke-width="1.4" />
<line x1="54.2" y1="414.3" x2="54.2" y2="417.8" stroke="#222" stroke-width="0.9" />
<line x1="75.1" y1="414.3" x2="75.1" y2="417.8" stroke="#222" stroke-width="0.9" />
<line x1="96.3" y1="414.3" x2="96.3" y2="417.8" stroke="#222" stroke-width="0.9" />
<line x1="117.5" y1="414.3" x2="117.5" y2="417.8" stroke="#222" stroke-width="0.9" />
<line x1="138.7" y1="414.3" x2="138.7" y2="417.8" stroke="#222" stroke-width="0.9" />
<line x1="160.1" y1="414.3" x2="160.1" y2="417.8" stroke="#222" stroke-width="0.9" />
<line x1="181.6" y1="414.3" x2="181.6" y2="417.8" stroke="#222" stroke-width="0.9" />
<line x1="201.9" y1="414.3" x2="201.9" y2="417.8" stroke="#222" stroke-width="0.9" />
<line x1="222.7" y1="414.3" x2="222.7" y2="417.8" stroke="#222" stroke-width="0.9" />
<line x1="243.9" y1="414.3" x2="243.9" y2="417.8" stroke="#222" stroke-width="0.9" />
<path d="M47.55,411.3 L49.25,409.90000000000003 L50.95,411.3 L49.25,412.7 Z" fill="#0f589e"/>
<path d="M52.4,411.3 L54.1,409.90000000000003 L55.800000000000004,411.3 L54.1,412.7 Z" fill="#0f589e"/>
<path d="M57.3,411.3 L59.0,409.90000000000003 L60.7,411.3 L59.0,412.7 Z" fill="#0f589e"/>
<path d="M72.40,327.20 C72.40,328.17 72.45,330.90 72.40,333.00 C72.35,335.10 72.27,336.97 72.10,339.80 C71.93,342.63 71.68,346.48 71.40,350.00 C71.12,353.52 70.70,357.90 70.40,360.90 C70.10,363.90 69.87,366.07 69.60,368.00 C69.33,369.93 69.02,371.25 68.80,372.50 C68.58,373.75 68.38,375.00 68.30,375.50 L82.50,375.50 C82.42,375.00 82.22,373.75 82.00,372.50 C81.78,371.25 81.47,369.93 81.20,368.00 C80.93,366.07 80.70,363.90 80.40,360.90 C80.10,357.90 79.68,353.52 79.40,350.00 C79.12,346.48 78.87,342.63 78.70,339.80 C78.53,336.97 78.45,335.10 78.40,333.00 C78.35,330.90 78.40,328.17 78.40,327.20 Z" fill="#e0889a" stroke="#dc7d92" stroke-width="0.35"/>
<line x1="72.1" y1="339.8" x2="78.7" y2="339.8" stroke="#3a3a3a" stroke-width="0.75" stroke-dasharray="0.8,0.65"/>
<line x1="70.2" y1="360.9" x2="80.6" y2="360.9" stroke="#3a3a3a" stroke-width="0.9" stroke-dasharray="0.8,0.65"/>
<circle cx="75.4" cy="328" r="1.45" fill="#d0112b"/>
<circle cx="75.4" cy="344" r="1.45" fill="#d0112b"/>
<circle cx="75.4" cy="355.6" r="1.45" fill="#d0112b"/>
<circle cx="75.4" cy="365.8" r="1.45" fill="#d0112b"/>
<circle cx="71.7" cy="375" r="1.45" fill="#d0112b"/>
<circle cx="78.8" cy="375.8" r="1.45" fill="#d0112b"/>
<path d="M95.10,365.80 C94.82,365.93 93.57,365.95 93.40,366.60 C93.23,367.25 93.82,368.77 94.10,369.70 C94.38,370.63 95.67,370.82 95.10,372.20 C94.53,373.58 91.70,376.13 90.70,378.00 C89.70,379.87 89.23,381.78 89.10,383.40 C88.97,385.02 89.45,386.53 89.90,387.70 C90.35,388.87 91.48,389.95 91.80,390.40 L100.80,390.40 C101.12,389.95 102.25,388.87 102.70,387.70 C103.15,386.53 103.63,385.02 103.50,383.40 C103.37,381.78 102.90,379.87 101.90,378.00 C100.90,376.13 98.07,373.58 97.50,372.20 C96.93,370.82 98.22,370.63 98.50,369.70 C98.78,368.77 99.37,367.25 99.20,366.60 C99.03,365.95 97.78,365.93 97.50,365.80 Z" fill="#e0889a" stroke="#dc7d92" stroke-width="0.35"/>
<line x1="94.3" y1="369.7" x2="98.3" y2="369.7" stroke="#3a3a3a" stroke-width="0.75" stroke-dasharray="0.8,0.65"/>
<line x1="89.3" y1="383.4" x2="103.3" y2="383.4" stroke="#3a3a3a" stroke-width="0.9" stroke-dasharray="0.8,0.65"/>
<line x1="90.1" y1="387.7" x2="102.5" y2="387.7" stroke="#3a3a3a" stroke-width="0.75" stroke-dasharray="0.8,0.65"/>
<circle cx="96.3" cy="366.3" r="1.45" fill="#d0112b"/>
<circle cx="92.6" cy="383.4" r="1.45" fill="#d0112b"/>
<circle cx="100" cy="383.4" r="1.45" fill="#d0112b"/>
<circle cx="96.3" cy="390.7" r="1.45" fill="#d0112b"/>
<path d="M110.90,375.10 C110.87,376.48 110.70,381.03 110.70,383.40 C110.70,385.77 110.37,386.80 110.90,389.30 C111.43,391.80 113.77,395.00 113.90,398.40 C114.03,401.80 112.07,407.82 111.70,409.70 L122.90,409.70 C122.53,407.82 120.57,401.80 120.70,398.40 C120.83,395.00 123.17,391.80 123.70,389.30 C124.23,386.80 123.90,385.77 123.90,383.40 C123.90,381.03 123.73,376.48 123.70,375.10 Z" fill="#e0889a" stroke="#dc7d92" stroke-width="0.35"/>
<line x1="110.9" y1="389.3" x2="123.7" y2="389.3" stroke="#3a3a3a" stroke-width="0.9" stroke-dasharray="0.8,0.65"/>
<circle cx="117.3" cy="375.1" r="1.45" fill="#d0112b"/>
<circle cx="117.3" cy="389.3" r="1.45" fill="#d0112b"/>
<circle cx="117.3" cy="410" r="1.45" fill="#d0112b"/>
<path d="M132.60,387.90 C133.32,389.02 137.03,392.47 136.90,394.60 C136.77,396.73 132.65,399.68 131.80,400.70 L146.00,400.70 C145.15,399.68 141.03,396.73 140.90,394.60 C140.77,392.47 144.48,389.02 145.20,387.90 Z" fill="#e0889a" stroke="#dc7d92" stroke-width="0.35"/>
<line x1="132.6" y1="387.9" x2="145.2" y2="387.9" stroke="#3a3a3a" stroke-width="0.75" stroke-dasharray="0.8,0.65"/>
<line x1="136.9" y1="394.6" x2="140.9" y2="394.6" stroke="#3a3a3a" stroke-width="0.9" stroke-dasharray="0.8,0.65"/>
<circle cx="135.1" cy="387.3" r="1.45" fill="#d0112b"/>
<circle cx="142.4" cy="390.2" r="1.45" fill="#d0112b"/>
<circle cx="135.1" cy="398.9" r="1.45" fill="#d0112b"/>
<circle cx="142.1" cy="400.7" r="1.45" fill="#d0112b"/>
<path d="M156.30,380.50 C156.40,380.97 156.83,382.38 156.90,383.30 C156.97,384.22 156.90,384.85 156.70,386.00 C156.50,387.15 156.18,388.97 155.70,390.20 C155.22,391.43 154.32,392.07 153.80,393.40 C153.28,394.73 152.80,397.40 152.60,398.20 L167.20,398.20 C167.00,397.40 166.52,394.73 166.00,393.40 C165.48,392.07 164.58,391.43 164.10,390.20 C163.62,388.97 163.30,387.15 163.10,386.00 C162.90,384.85 162.83,384.22 162.90,383.30 C162.97,382.38 163.40,380.97 163.50,380.50 Z" fill="#e0889a" stroke="#dc7d92" stroke-width="0.35"/>
<line x1="157.1" y1="383.3" x2="162.7" y2="383.3" stroke="#3a3a3a" stroke-width="0.75" stroke-dasharray="0.8,0.65"/>
<line x1="153.8" y1="393.4" x2="166.0" y2="393.4" stroke="#3a3a3a" stroke-width="0.9" stroke-dasharray="0.8,0.65"/>
<circle cx="159.9" cy="380.6" r="1.45" fill="#d0112b"/>
<circle cx="159.9" cy="390.2" r="1.45" fill="#d0112b"/>
<circle cx="156.1" cy="396" r="1.45" fill="#d0112b"/>
<circle cx="163.4" cy="399" r="1.45" fill="#d0112b"/>
<path d="M176.00,346.60 C176.28,347.75 177.58,351.38 177.70,353.50 C177.82,355.62 177.25,356.83 176.70,359.30 C176.15,361.77 174.78,365.60 174.40,368.30 C174.02,371.00 174.30,373.43 174.40,375.50 C174.50,377.57 174.90,379.83 175.00,380.70 L187.00,380.70 C187.10,379.83 187.50,377.57 187.60,375.50 C187.70,373.43 187.98,371.00 187.60,368.30 C187.22,365.60 185.85,361.77 185.30,359.30 C184.75,356.83 184.18,355.62 184.30,353.50 C184.42,351.38 185.72,347.75 186.00,346.60 Z" fill="#e0889a" stroke="#dc7d92" stroke-width="0.35"/>
<line x1="174.4" y1="368.3" x2="187.6" y2="368.3" stroke="#3a3a3a" stroke-width="0.9" stroke-dasharray="0.8,0.65"/>
<circle cx="181" cy="346.6" r="1.45" fill="#d0112b"/>
<circle cx="181" cy="368.3" r="1.45" fill="#d0112b"/>
<circle cx="181" cy="381.3" r="1.45" fill="#d0112b"/>
<path d="M198.00,356.40 C198.08,357.08 198.38,359.33 198.50,360.50 C198.62,361.67 198.98,361.10 198.70,363.40 C198.42,365.70 197.32,371.62 196.80,374.30 C196.28,376.98 195.80,377.67 195.60,379.50 C195.40,381.33 195.60,383.27 195.60,385.30 C195.60,387.33 195.57,390.35 195.60,391.70 C195.63,393.05 195.77,393.12 195.80,393.40 L208.20,393.40 C208.23,393.12 208.37,393.05 208.40,391.70 C208.43,390.35 208.40,387.33 208.40,385.30 C208.40,383.27 208.60,381.33 208.40,379.50 C208.20,377.67 207.72,376.98 207.20,374.30 C206.68,371.62 205.58,365.70 205.30,363.40 C205.02,361.10 205.38,361.67 205.50,360.50 C205.62,359.33 205.92,357.08 206.00,356.40 Z" fill="#e0889a" stroke="#dc7d92" stroke-width="0.35"/>
<line x1="198.5" y1="360.5" x2="205.5" y2="360.5" stroke="#3a3a3a" stroke-width="0.75" stroke-dasharray="0.8,0.65"/>
<line x1="195.6" y1="379.5" x2="208.4" y2="379.5" stroke="#3a3a3a" stroke-width="0.9" stroke-dasharray="0.8,0.65"/>
<line x1="195.6" y1="391.7" x2="208.4" y2="391.7" stroke="#3a3a3a" stroke-width="0.75" stroke-dasharray="0.8,0.65"/>
<circle cx="202" cy="356.4" r="1.45" fill="#d0112b"/>
<circle cx="202" cy="374.1" r="1.45" fill="#d0112b"/>
<circle cx="202" cy="385.3" r="1.45" fill="#d0112b"/>
<circle cx="202" cy="393.4" r="1.45" fill="#d0112b"/>
<path d="M217.00,357.30 C216.90,357.78 216.38,359.08 216.40,360.20 C216.42,361.32 216.47,362.35 217.10,364.00 C217.73,365.65 219.90,367.87 220.20,370.10 C220.50,372.33 219.12,376.18 218.90,377.40 L227.90,377.40 C227.68,376.18 226.30,372.33 226.60,370.10 C226.90,367.87 229.07,365.65 229.70,364.00 C230.33,362.35 230.38,361.32 230.40,360.20 C230.42,359.08 229.90,357.78 229.80,357.30 Z" fill="#e0889a" stroke="#dc7d92" stroke-width="0.35"/>
<line x1="217.0" y1="357.6" x2="229.8" y2="357.6" stroke="#3a3a3a" stroke-width="0.75" stroke-dasharray="0.8,0.65"/>
<line x1="217.1" y1="364" x2="229.7" y2="364" stroke="#3a3a3a" stroke-width="0.9" stroke-dasharray="0.8,0.65"/>
<circle cx="223.4" cy="357" r="1.45" fill="#d0112b"/>
<circle cx="223.4" cy="364" r="1.45" fill="#d0112b"/>
<circle cx="223.4" cy="378.1" r="1.45" fill="#d0112b"/>
<path d="M239.50,363.30 C239.43,364.75 239.23,369.38 239.10,372.00 C238.97,374.62 238.90,376.73 238.70,379.00 C238.50,381.27 238.03,383.75 237.90,385.60 C237.77,387.45 237.90,389.35 237.90,390.10 L250.70,390.10 C250.70,389.35 250.83,387.45 250.70,385.60 C250.57,383.75 250.10,381.27 249.90,379.00 C249.70,376.73 249.63,374.62 249.50,372.00 C249.37,369.38 249.17,364.75 249.10,363.30 Z" fill="#e0889a" stroke="#dc7d92" stroke-width="0.35"/>
<line x1="239.5" y1="365.4" x2="249.1" y2="365.4" stroke="#3a3a3a" stroke-width="0.75" stroke-dasharray="0.8,0.65"/>
<line x1="238.7" y1="379" x2="249.9" y2="379" stroke="#3a3a3a" stroke-width="0.9" stroke-dasharray="0.8,0.65"/>
<line x1="237.9" y1="389.2" x2="250.7" y2="389.2" stroke="#3a3a3a" stroke-width="0.75" stroke-dasharray="0.8,0.65"/>
<circle cx="244.3" cy="362.9" r="1.45" fill="#d0112b"/>
<circle cx="244.3" cy="374" r="1.45" fill="#d0112b"/>
<circle cx="244.3" cy="384" r="1.45" fill="#d0112b"/>
<circle cx="244.3" cy="391.2" r="1.45" fill="#d0112b"/>
<line x1="75.8" y1="265" x2="98.8" y2="265" stroke="#2a2a2a" stroke-width="1.05" />
<line x1="75.8" y1="263.5" x2="75.8" y2="266.5" stroke="#2a2a2a" stroke-width="1.0" />
<line x1="98.8" y1="263.5" x2="98.8" y2="266.5" stroke="#2a2a2a" stroke-width="1.0" />
<line x1="75.8" y1="273.7" x2="118.7" y2="273.7" stroke="#2a2a2a" stroke-width="1.05" />
<line x1="75.8" y1="272.2" x2="75.8" y2="275.2" stroke="#2a2a2a" stroke-width="1.0" />
<line x1="118.7" y1="272.2" x2="118.7" y2="275.2" stroke="#2a2a2a" stroke-width="1.0" />
<line x1="75.8" y1="281" x2="139" y2="281" stroke="#2a2a2a" stroke-width="1.05" />
<line x1="75.8" y1="279.5" x2="75.8" y2="282.5" stroke="#2a2a2a" stroke-width="1.0" />
<line x1="139" y1="279.5" x2="139" y2="282.5" stroke="#2a2a2a" stroke-width="1.0" />
<line x1="75.8" y1="288.8" x2="160.2" y2="288.8" stroke="#2a2a2a" stroke-width="1.05" />
<line x1="75.8" y1="287.3" x2="75.8" y2="290.3" stroke="#2a2a2a" stroke-width="1.0" />
<line x1="160.2" y1="287.3" x2="160.2" y2="290.3" stroke="#2a2a2a" stroke-width="1.0" />
<line x1="75.8" y1="296.8" x2="180.7" y2="296.8" stroke="#2a2a2a" stroke-width="1.05" />
<line x1="75.8" y1="295.3" x2="75.8" y2="298.3" stroke="#2a2a2a" stroke-width="1.0" />
<line x1="180.7" y1="295.3" x2="180.7" y2="298.3" stroke="#2a2a2a" stroke-width="1.0" />
<line x1="75.8" y1="304.6" x2="202.3" y2="304.6" stroke="#2a2a2a" stroke-width="1.05" />
<line x1="75.8" y1="303.1" x2="75.8" y2="306.1" stroke="#2a2a2a" stroke-width="1.0" />
<line x1="202.3" y1="303.1" x2="202.3" y2="306.1" stroke="#2a2a2a" stroke-width="1.0" />
<line x1="75.8" y1="312.3" x2="222.7" y2="312.3" stroke="#2a2a2a" stroke-width="1.05" />
<line x1="75.8" y1="310.8" x2="75.8" y2="313.8" stroke="#2a2a2a" stroke-width="1.0" />
<line x1="222.7" y1="310.8" x2="222.7" y2="313.8" stroke="#2a2a2a" stroke-width="1.0" />
<line x1="75.8" y1="319.5" x2="243.2" y2="319.5" stroke="#2a2a2a" stroke-width="1.05" />
<line x1="75.8" y1="318.0" x2="75.8" y2="321.0" stroke="#2a2a2a" stroke-width="1.0" />
<line x1="243.2" y1="318.0" x2="243.2" y2="321.0" stroke="#2a2a2a" stroke-width="1.0" />
<line x1="52.7" y1="319.5" x2="75.8" y2="319.5" stroke="#2a2a2a" stroke-width="1.05" />
<line x1="52.7" y1="318.0" x2="52.7" y2="321.0" stroke="#2a2a2a" stroke-width="1.0" />
<line x1="75.8" y1="318.0" x2="75.8" y2="321.0" stroke="#2a2a2a" stroke-width="1.0" />
<circle cx="75.2" cy="319.5" r="1.6" fill="#3a3a3a"/>
<text x="87.7" y="264.3" font-size="8.0" text-anchor="middle" fill="#222" font-weight="bold" >*</text>
<text x="97.3" y="272.90000000000003" font-size="8.0" text-anchor="middle" fill="#222" font-weight="bold" >*</text>
<text x="107.5" y="280.3" font-size="8.0" text-anchor="middle" fill="#222" font-weight="bold" >**</text>
<text x="117.7" y="288.3" font-size="8.0" text-anchor="middle" fill="#222" font-weight="bold" >*</text>
<text x="128" y="294.09999999999997" font-size="7.3" text-anchor="middle" fill="#222" textLength="7.2" lengthAdjust="spacingAndGlyphs" >ns</text>
<text x="140.4" y="301.8" font-size="7.3" text-anchor="middle" fill="#222" textLength="7.2" lengthAdjust="spacingAndGlyphs" >ns</text>
<text x="149.4" y="309.09999999999997" font-size="7.3" text-anchor="middle" fill="#222" textLength="7.2" lengthAdjust="spacingAndGlyphs" >ns</text>
<text x="159" y="316.59999999999997" font-size="7.3" text-anchor="middle" fill="#222" textLength="7.2" lengthAdjust="spacingAndGlyphs" >ns</text>
<text x="63.7" y="318.90000000000003" font-size="8.0" text-anchor="middle" fill="#222" font-weight="bold" >**</text>
<text x="56.400000000000006" y="420.3" font-size="6.5" text-anchor="end" fill="#222" textLength="9.5" lengthAdjust="spacingAndGlyphs" transform="rotate(-90 56.400000000000006 420.3)" >HC</text>
<text x="77.3" y="420.3" font-size="6.5" text-anchor="end" fill="#222" textLength="29" lengthAdjust="spacingAndGlyphs" transform="rotate(-90 77.3 420.3)" >Untreated</text>
<text x="98.5" y="420.3" font-size="6.5" text-anchor="end" fill="#222" textLength="9.3" lengthAdjust="spacingAndGlyphs" transform="rotate(-90 98.5 420.3)" >0.1</text>
<text x="119.7" y="420.3" font-size="6.5" text-anchor="end" fill="#222" textLength="9.3" lengthAdjust="spacingAndGlyphs" transform="rotate(-90 119.7 420.3)" >0.5</text>
<text x="140.89999999999998" y="420.3" font-size="6.5" text-anchor="end" fill="#222" textLength="4.3" lengthAdjust="spacingAndGlyphs" transform="rotate(-90 140.89999999999998 420.3)" >1</text>
<text x="162.29999999999998" y="420.3" font-size="6.5" text-anchor="end" fill="#222" textLength="48.3" lengthAdjust="spacingAndGlyphs" transform="rotate(-90 162.29999999999998 420.3)" >Danaparoid (0.8)</text>
<text x="183.79999999999998" y="420.3" font-size="6.5" text-anchor="end" fill="#222" textLength="4.3" lengthAdjust="spacingAndGlyphs" transform="rotate(-90 183.79999999999998 420.3)" >1</text>
<text x="204.1" y="420.3" font-size="6.5" text-anchor="end" fill="#222" textLength="4.8" lengthAdjust="spacingAndGlyphs" transform="rotate(-90 204.1 420.3)" >8</text>
<text x="224.89999999999998" y="420.3" font-size="6.5" text-anchor="end" fill="#222" textLength="9.3" lengthAdjust="spacingAndGlyphs" transform="rotate(-90 224.89999999999998 420.3)" >0.8</text>
<text x="246.1" y="420.3" font-size="6.5" text-anchor="end" fill="#222" textLength="4.8" lengthAdjust="spacingAndGlyphs" transform="rotate(-90 246.1 420.3)" >8</text>
<line x1="92.9" y1="433.3" x2="147.8" y2="433.3" stroke="#222" stroke-width="1.0" />
<text x="120.3" y="441.1" font-size="6.6" text-anchor="middle" fill="#222" textLength="22.2" lengthAdjust="spacingAndGlyphs" >Heparin</text>
<line x1="176.5" y1="433.3" x2="208.1" y2="433.3" stroke="#222" stroke-width="1.0" />
<text x="192.5" y="441.1" font-size="6.6" text-anchor="middle" fill="#222" textLength="39" lengthAdjust="spacingAndGlyphs" >Fondaparinux</text>
<line x1="219.7" y1="433.3" x2="252" y2="433.3" stroke="#222" stroke-width="1.0" />
<text x="235.9" y="441.1" font-size="6.6" text-anchor="middle" fill="#222" textLength="33.3" lengthAdjust="spacingAndGlyphs" >Argatroban</text>
<line x1="70.2" y1="470.2" x2="252" y2="470.2" stroke="#222" stroke-width="1.0" />
<text x="160.6" y="478.3" font-size="6.4" text-anchor="middle" fill="#222" textLength="59.4" lengthAdjust="spacingAndGlyphs" >VITT sera + exogenous PF4</text>
<circle cx="154.2" cy="260.6" r="2.3" fill="#c6c6cb"/>
<circle cx="160.3" cy="259.4" r="2.3" fill="#c6c6cb"/>
<circle cx="165.8" cy="260.6" r="2.3" fill="#c6c6cb"/>
<ellipse cx="159.9" cy="268.2" rx="10.5" ry="7.4" fill="#fbe2bb" stroke="#6a9bcc" stroke-width="0.6"/>
<text x="159.9" y="269.8" font-size="6.4" text-anchor="middle" fill="#1a1a1a" textLength="18.6" lengthAdjust="spacingAndGlyphs" stroke="#1a1a1a" stroke-width="0.15">Platelet</text>
<line x1="144.5" y1="257.8" x2="151.39999999999998" y2="257.8" stroke="#d0112b" stroke-width="1.1" />
<line x1="151.7" y1="255.9" x2="151.7" y2="259.7" stroke="#d0112b" stroke-width="1.3" />
<path d="M161.64999999999998,247.9 V252.4" stroke="#8a8a8a" stroke-width="1.00"/>
<path d="M160.7,247.9 V252.0 L159.50,253.40" fill="none" stroke="#454545" stroke-width="0.9"/>
<path d="M162.6,247.9 V252.0 L163.80,253.40" fill="none" stroke="#454545" stroke-width="0.9"/>
<path d="M159.5,253.4 L158.9,255.4" stroke="#d0112b" stroke-width="2.1" stroke-linecap="butt"/>
<path d="M163.79999999999998,253.4 L166.0,255.2" stroke="#d0112b" stroke-width="2.1" stroke-linecap="butt"/>
<path d="M159.8,253.0 L159.15,253.85" stroke="#2f6f6a" stroke-width="2.1" stroke-linecap="butt"/>
<path d="M163.49999999999997,253.0 L164.14999999999998,253.85" stroke="#2f6f6a" stroke-width="2.1" stroke-linecap="butt"/>
<path d="M158.70,253.80 l0.6,0.5 l-0.4,0.6" fill="none" stroke="#fff" stroke-width="0.35"/>
<path d="M165.40,253.70 l-0.6,0.5 l0.4,0.6" fill="none" stroke="#fff" stroke-width="0.35"/>
<polyline points="156.40,256.60 156.47,256.11 156.50,255.65 156.46,255.23 156.32,254.87 156.07,254.57 155.73,254.33 155.31,254.13 154.85,253.95 154.39,253.77 153.97,253.57 153.63,253.33 153.38,253.03 153.24,252.67 153.20,252.25 153.23,251.79 153.30,251.30" fill="none" stroke="#5b90c6" stroke-width="0.8" stroke-linecap="round"/>
<polyline points="167.30,256.60 167.76,256.42 168.18,256.22 168.52,255.98 168.77,255.68 168.91,255.32 168.95,254.90 168.92,254.44 168.85,253.95 168.78,253.46 168.75,253.00 168.79,252.58 168.93,252.22 169.18,251.92 169.52,251.68 169.94,251.48 170.40,251.30" fill="none" stroke="#5b90c6" stroke-width="0.8" stroke-linecap="round"/>
<path d="M165.9,236.8 L163.7,240.9" stroke="#3a3a3a" stroke-width="2.0" stroke-linecap="butt"/>
<path d="M163.7,240.9 L159.0,243.8" stroke="#111" stroke-width="1.9" stroke-linecap="butt"/>
<path d="M163.7,240.9 L163.9,245.8" stroke="#111" stroke-width="1.9" stroke-linecap="butt"/>
<polygon points="163.06,236.72 162.04,237.14 162.13,238.24 161.07,237.91 160.43,238.81 159.84,237.88 158.77,238.16 158.92,237.06 157.92,236.59 158.74,235.84 158.27,234.84 159.38,234.79 159.67,233.73 160.55,234.40 161.45,233.77 161.69,234.85 162.79,234.95 162.28,235.93" fill="#2cb34a"/>
<text x="173.5" y="241.2" font-size="6.5" text-anchor="start" fill="#1a1a1a" textLength="44" lengthAdjust="spacingAndGlyphs" >3. AHG binding</text>
<text x="173.5" y="250.8" font-size="6.5" text-anchor="start" fill="#1a1a1a" textLength="76" lengthAdjust="spacingAndGlyphs" >2. VITT sera+anticoagulant</text>
<text x="173.5" y="260.3" font-size="6.5" text-anchor="start" fill="#1a1a1a" textLength="17.5" lengthAdjust="spacingAndGlyphs" >1. PF4</text>
<text x="270.7" y="367.3" font-size="9.3" text-anchor="middle" fill="#222" textLength="66" lengthAdjust="spacingAndGlyphs" transform="rotate(-90 270.7 367.3)" >IgG binding to PLTs</text>
<text x="281.8" y="367.2" font-size="9.3" text-anchor="middle" fill="#222" textLength="86" lengthAdjust="spacingAndGlyphs" transform="rotate(-90 281.8 367.2)" >(FI normalized to control)</text>
<text x="293.7" y="326.2" font-size="8.4" text-anchor="end" fill="#222" textLength="8.6" lengthAdjust="spacingAndGlyphs" >30</text>
<line x1="296.4" y1="323.3" x2="299.9" y2="323.3" stroke="#222" stroke-width="1" />
<text x="293.7" y="356.9" font-size="8.4" text-anchor="end" fill="#222" textLength="8.6" lengthAdjust="spacingAndGlyphs" >20</text>
<line x1="296.4" y1="354.0" x2="299.9" y2="354.0" stroke="#222" stroke-width="1" />
<text x="293.7" y="387.09999999999997" font-size="8.4" text-anchor="end" fill="#222" textLength="8.6" lengthAdjust="spacingAndGlyphs" >10</text>
<line x1="296.4" y1="384.2" x2="299.9" y2="384.2" stroke="#222" stroke-width="1" />
<text x="293.7" y="417.5" font-size="8.4" text-anchor="end" fill="#222" textLength="4.4" lengthAdjust="spacingAndGlyphs" >0</text>
<line x1="296.4" y1="414.6" x2="299.9" y2="414.6" stroke="#222" stroke-width="1" />
<line x1="296.7" y1="411.9" x2="512.3" y2="411.9" stroke="#999999" stroke-width="1.3" stroke-dasharray="2.5,2.8"/>
<line x1="299.9" y1="320" x2="299.9" y2="415.20000000000005" stroke="#222" stroke-width="1.4" />
<line x1="296.4" y1="414.6" x2="512.8" y2="414.6" stroke="#222" stroke-width="1.4" />
<line x1="310.6" y1="414.6" x2="310.6" y2="418.1" stroke="#222" stroke-width="0.9" />
<line x1="331.7" y1="414.6" x2="331.7" y2="418.1" stroke="#222" stroke-width="0.9" />
<line x1="353.2" y1="414.6" x2="353.2" y2="418.1" stroke="#222" stroke-width="0.9" />
<line x1="374.4" y1="414.6" x2="374.4" y2="418.1" stroke="#222" stroke-width="0.9" />
<line x1="395.6" y1="414.6" x2="395.6" y2="418.1" stroke="#222" stroke-width="0.9" />
<line x1="417.1" y1="414.6" x2="417.1" y2="418.1" stroke="#222" stroke-width="0.9" />
<line x1="438.4" y1="414.6" x2="438.4" y2="418.1" stroke="#222" stroke-width="0.9" />
<line x1="459.8" y1="414.6" x2="459.8" y2="418.1" stroke="#222" stroke-width="0.9" />
<line x1="481.3" y1="414.6" x2="481.3" y2="418.1" stroke="#222" stroke-width="0.9" />
<line x1="502.4" y1="414.6" x2="502.4" y2="418.1" stroke="#222" stroke-width="0.9" />
<circle cx="305.6" cy="411.9" r="1.35" fill="#0f589e"/>
<circle cx="310.35" cy="411.9" r="1.35" fill="#0f589e"/>
<circle cx="315.1" cy="411.9" r="1.35" fill="#0f589e"/>
<path d="M329.10,371.00 C329.10,372.15 329.18,375.15 329.10,377.90 C329.02,380.65 328.90,385.12 328.60,387.50 C328.30,389.88 327.70,390.92 327.30,392.20 C326.90,393.48 326.60,393.50 326.20,395.20 C325.80,396.90 325.12,401.20 324.90,402.40 L338.70,402.40 C338.48,401.20 337.80,396.90 337.40,395.20 C337.00,393.50 336.70,393.48 336.30,392.20 C335.90,390.92 335.30,389.88 335.00,387.50 C334.70,385.12 334.58,380.65 334.50,377.90 C334.42,375.15 334.50,372.15 334.50,371.00 Z" fill="#e0889a" stroke="#dc7d92" stroke-width="0.35"/>
<line x1="329.1" y1="378.5" x2="334.5" y2="378.5" stroke="#3a3a3a" stroke-width="0.75" stroke-dasharray="0.8,0.65"/>
<line x1="326.2" y1="395.2" x2="337.4" y2="395.2" stroke="#3a3a3a" stroke-width="0.9" stroke-dasharray="0.8,0.65"/>
<circle cx="331.8" cy="371.4" r="1.45" fill="#d0112b"/>
<circle cx="331.8" cy="381.3" r="1.45" fill="#d0112b"/>
<circle cx="331.8" cy="392.8" r="1.45" fill="#d0112b"/>
<circle cx="331.8" cy="398.2" r="1.45" fill="#d0112b"/>
<circle cx="328" cy="403" r="1.45" fill="#d0112b"/>
<circle cx="335.3" cy="403.2" r="1.45" fill="#d0112b"/>
<path d="M346.10,398.80 C346.95,399.25 351.20,400.52 351.20,401.50 C351.20,402.48 346.95,404.17 346.10,404.70 L359.90,404.70 C359.05,404.17 354.80,402.48 354.80,401.50 C354.80,400.52 359.05,399.25 359.90,398.80 Z" fill="#e0889a" stroke="#dc7d92" stroke-width="0.35"/>
<line x1="346.1" y1="398.8" x2="359.9" y2="398.8" stroke="#3a3a3a" stroke-width="0.75" stroke-dasharray="0.8,0.65"/>
<line x1="351.2" y1="401.5" x2="354.8" y2="401.5" stroke="#3a3a3a" stroke-width="0.9" stroke-dasharray="0.8,0.65"/>
<line x1="346.1" y1="404.7" x2="359.9" y2="404.7" stroke="#3a3a3a" stroke-width="0.75" stroke-dasharray="0.8,0.65"/>
<circle cx="349.4" cy="398.2" r="1.45" fill="#d0112b"/>
<circle cx="356.6" cy="399.1" r="1.45" fill="#d0112b"/>
<circle cx="349.4" cy="404.7" r="1.45" fill="#d0112b"/>
<circle cx="356.6" cy="405.3" r="1.45" fill="#d0112b"/>
<path d="M367.90,407.60 C368.48,407.83 371.07,408.52 371.40,409.00 C371.73,409.48 370.15,410.25 369.90,410.50 L378.90,410.50 C378.65,410.25 377.07,409.48 377.40,409.00 C377.73,408.52 380.32,407.83 380.90,407.60 Z" fill="#e0889a" stroke="#dc7d92" stroke-width="0.35"/>
<line x1="371.4" y1="408.9" x2="377.4" y2="408.9" stroke="#3a3a3a" stroke-width="0.9" stroke-dasharray="0.8,0.65"/>
<circle cx="369.7" cy="408" r="1.45" fill="#d0112b"/>
<circle cx="374.4" cy="408.9" r="1.45" fill="#d0112b"/>
<circle cx="379.2" cy="411.9" r="1.45" fill="#d0112b"/>
<path d="M392.40,406.80 C392.22,407.18 391.83,408.43 391.30,409.10 C390.77,409.77 389.55,410.52 389.20,410.80 L402.40,410.80 C402.05,410.52 400.83,409.77 400.30,409.10 C399.77,408.43 399.38,407.18 399.20,406.80 Z" fill="#e0889a" stroke="#dc7d92" stroke-width="0.35"/>
<line x1="392.4" y1="406.8" x2="399.2" y2="406.8" stroke="#3a3a3a" stroke-width="0.75" stroke-dasharray="0.8,0.65"/>
<line x1="391.3" y1="409.1" x2="400.3" y2="409.1" stroke="#3a3a3a" stroke-width="0.9" stroke-dasharray="0.8,0.65"/>
<circle cx="390.3" cy="406.2" r="1.45" fill="#d0112b"/>
<circle cx="394" cy="408.5" r="1.45" fill="#d0112b"/>
<circle cx="397.5" cy="410.4" r="1.45" fill="#d0112b"/>
<circle cx="400.9" cy="410.8" r="1.45" fill="#d0112b"/>
<path d="M410.20,400.20 C411.08,401.05 415.50,403.60 415.50,405.30 C415.50,407.00 411.08,409.55 410.20,410.40 L423.80,410.40 C422.92,409.55 418.50,407.00 418.50,405.30 C418.50,403.60 422.92,401.05 423.80,400.20 Z" fill="#e0889a" stroke="#dc7d92" stroke-width="0.35"/>
<line x1="415.5" y1="405.3" x2="418.5" y2="405.3" stroke="#3a3a3a" stroke-width="0.9" stroke-dasharray="0.8,0.65"/>
<circle cx="413.4" cy="399.8" r="1.45" fill="#d0112b"/>
<circle cx="420.5" cy="401.1" r="1.45" fill="#d0112b"/>
<circle cx="413.2" cy="409.4" r="1.45" fill="#d0112b"/>
<circle cx="420.5" cy="410.8" r="1.45" fill="#d0112b"/>
<path d="M432.10,378.10 C432.00,378.85 431.52,380.95 431.50,382.60 C431.48,384.25 431.58,386.03 432.00,388.00 C432.42,389.97 433.82,392.18 434.00,394.40 C434.18,396.62 433.25,400.15 433.10,401.30 L444.10,401.30 C443.95,400.15 443.02,396.62 443.20,394.40 C443.38,392.18 444.78,389.97 445.20,388.00 C445.62,386.03 445.72,384.25 445.70,382.60 C445.68,380.95 445.20,378.85 445.10,378.10 Z" fill="#e0889a" stroke="#dc7d92" stroke-width="0.35"/>
<line x1="432.0" y1="388" x2="445.2" y2="388" stroke="#3a3a3a" stroke-width="0.9" stroke-dasharray="0.8,0.65"/>
<circle cx="438.6" cy="378.1" r="1.45" fill="#d0112b"/>
<circle cx="438.6" cy="388" r="1.45" fill="#d0112b"/>
<circle cx="438.6" cy="401.5" r="1.45" fill="#d0112b"/>
<path d="M456.50,371.90 C456.68,372.85 457.32,375.90 457.60,377.60 C457.88,379.30 458.78,379.45 458.20,382.10 C457.62,384.75 454.90,390.55 454.10,393.50 C453.30,396.45 453.62,397.78 453.40,399.80 C453.18,401.82 452.90,404.63 452.80,405.60 L466.80,405.60 C466.70,404.63 466.42,401.82 466.20,399.80 C465.98,397.78 466.30,396.45 465.50,393.50 C464.70,390.55 461.98,384.75 461.40,382.10 C460.82,379.45 461.72,379.30 462.00,377.60 C462.28,375.90 462.92,372.85 463.10,371.90 Z" fill="#e0889a" stroke="#dc7d92" stroke-width="0.35"/>
<line x1="457.6" y1="377.6" x2="462.0" y2="377.6" stroke="#3a3a3a" stroke-width="0.75" stroke-dasharray="0.8,0.65"/>
<line x1="453.4" y1="399.8" x2="466.2" y2="399.8" stroke="#3a3a3a" stroke-width="0.9" stroke-dasharray="0.8,0.65"/>
<circle cx="459.8" cy="371.7" r="1.45" fill="#d0112b"/>
<circle cx="459.8" cy="394" r="1.45" fill="#d0112b"/>
<circle cx="456" cy="406" r="1.45" fill="#d0112b"/>
<circle cx="463.3" cy="406" r="1.45" fill="#d0112b"/>
<path d="M474.40,384.10 C474.37,384.63 474.12,386.03 474.20,387.30 C474.28,388.57 474.47,390.00 474.90,391.70 C475.33,393.40 476.67,395.62 476.80,397.50 C476.93,399.38 475.88,402.08 475.70,403.00 L486.70,403.00 C486.52,402.08 485.47,399.38 485.60,397.50 C485.73,395.62 487.07,393.40 487.50,391.70 C487.93,390.00 488.12,388.57 488.20,387.30 C488.28,386.03 488.03,384.63 488.00,384.10 Z" fill="#e0889a" stroke="#dc7d92" stroke-width="0.35"/>
<line x1="474.9" y1="391.7" x2="487.5" y2="391.7" stroke="#3a3a3a" stroke-width="0.9" stroke-dasharray="0.8,0.65"/>
<circle cx="481.2" cy="384.1" r="1.45" fill="#d0112b"/>
<circle cx="481.2" cy="391.7" r="1.45" fill="#d0112b"/>
<circle cx="481.2" cy="403.2" r="1.45" fill="#d0112b"/>
<path d="M495.80,386.90 C496.72,388.45 501.40,393.32 501.30,396.20 C501.20,399.08 496.22,402.87 495.20,404.20 L510.00,404.20 C508.98,402.87 504.00,399.08 503.90,396.20 C503.80,393.32 508.48,388.45 509.40,386.90 Z" fill="#e0889a" stroke="#dc7d92" stroke-width="0.35"/>
<line x1="495.8" y1="386.9" x2="509.4" y2="386.9" stroke="#3a3a3a" stroke-width="0.75" stroke-dasharray="0.8,0.65"/>
<line x1="501.3" y1="396.2" x2="503.9" y2="396.2" stroke="#3a3a3a" stroke-width="0.9" stroke-dasharray="0.8,0.65"/>
<line x1="495.2" y1="404.2" x2="510.0" y2="404.2" stroke="#3a3a3a" stroke-width="0.75" stroke-dasharray="0.8,0.65"/>
<circle cx="498.9" cy="386.3" r="1.45" fill="#d0112b"/>
<circle cx="506.2" cy="388.8" r="1.45" fill="#d0112b"/>
<circle cx="498.9" cy="403.2" r="1.45" fill="#d0112b"/>
<circle cx="506.2" cy="404.9" r="1.45" fill="#d0112b"/>
<line x1="332.3" y1="261.9" x2="353.5" y2="261.9" stroke="#2a2a2a" stroke-width="1.05" />
<line x1="332.3" y1="260.4" x2="332.3" y2="263.4" stroke="#2a2a2a" stroke-width="1.0" />
<line x1="353.5" y1="260.4" x2="353.5" y2="263.4" stroke="#2a2a2a" stroke-width="1.0" />
<line x1="332.3" y1="270.2" x2="375.4" y2="270.2" stroke="#2a2a2a" stroke-width="1.05" />
<line x1="332.3" y1="268.7" x2="332.3" y2="271.7" stroke="#2a2a2a" stroke-width="1.0" />
<line x1="375.4" y1="268.7" x2="375.4" y2="271.7" stroke="#2a2a2a" stroke-width="1.0" />
<line x1="332.3" y1="277.9" x2="396.2" y2="277.9" stroke="#2a2a2a" stroke-width="1.05" />
<line x1="332.3" y1="276.4" x2="332.3" y2="279.4" stroke="#2a2a2a" stroke-width="1.0" />
<line x1="396.2" y1="276.4" x2="396.2" y2="279.4" stroke="#2a2a2a" stroke-width="1.0" />
<line x1="332.3" y1="285.7" x2="417.7" y2="285.7" stroke="#2a2a2a" stroke-width="1.05" />
<line x1="332.3" y1="284.2" x2="332.3" y2="287.2" stroke="#2a2a2a" stroke-width="1.0" />
<line x1="417.7" y1="284.2" x2="417.7" y2="287.2" stroke="#2a2a2a" stroke-width="1.0" />
<line x1="332.3" y1="294.6" x2="438.1" y2="294.6" stroke="#2a2a2a" stroke-width="1.05" />
<line x1="332.3" y1="293.1" x2="332.3" y2="296.1" stroke="#2a2a2a" stroke-width="1.0" />
<line x1="438.1" y1="293.1" x2="438.1" y2="296.1" stroke="#2a2a2a" stroke-width="1.0" />
<line x1="332.3" y1="302.3" x2="460.0" y2="302.3" stroke="#2a2a2a" stroke-width="1.05" />
<line x1="332.3" y1="300.8" x2="332.3" y2="303.8" stroke="#2a2a2a" stroke-width="1.0" />
<line x1="460.0" y1="300.8" x2="460.0" y2="303.8" stroke="#2a2a2a" stroke-width="1.0" />
<line x1="332.3" y1="311.2" x2="483.2" y2="311.2" stroke="#2a2a2a" stroke-width="1.05" />
<line x1="332.3" y1="309.7" x2="332.3" y2="312.7" stroke="#2a2a2a" stroke-width="1.0" />
<line x1="483.2" y1="309.7" x2="483.2" y2="312.7" stroke="#2a2a2a" stroke-width="1.0" />
<line x1="332.3" y1="319.6" x2="502.8" y2="319.6" stroke="#2a2a2a" stroke-width="1.05" />
<line x1="332.3" y1="318.1" x2="332.3" y2="321.1" stroke="#2a2a2a" stroke-width="1.0" />
<line x1="502.8" y1="318.1" x2="502.8" y2="321.1" stroke="#2a2a2a" stroke-width="1.0" />
<line x1="309.2" y1="319.6" x2="332.3" y2="319.6" stroke="#2a2a2a" stroke-width="1.05" />
<line x1="309.2" y1="318.1" x2="309.2" y2="321.1" stroke="#2a2a2a" stroke-width="1.0" />
<line x1="332.3" y1="318.1" x2="332.3" y2="321.1" stroke="#2a2a2a" stroke-width="1.0" />
<circle cx="331.9" cy="319.6" r="1.6" fill="#3a3a3a"/>
<text x="343.3" y="259.8" font-size="7.3" text-anchor="middle" fill="#222" textLength="7.2" lengthAdjust="spacingAndGlyphs" >ns</text>
<text x="353.8" y="270.7" font-size="8.0" text-anchor="middle" fill="#222" font-weight="bold" >*</text>
<text x="364" y="277.90000000000003" font-size="8.0" text-anchor="middle" fill="#222" font-weight="bold" >**</text>
<text x="374.6" y="283.4" font-size="7.3" text-anchor="middle" fill="#222" textLength="7.2" lengthAdjust="spacingAndGlyphs" >ns</text>
<text x="385.2" y="292.2" font-size="7.3" text-anchor="middle" fill="#222" textLength="7.2" lengthAdjust="spacingAndGlyphs" >ns</text>
<text x="398.3" y="299.8" font-size="7.3" text-anchor="middle" fill="#222" textLength="7.2" lengthAdjust="spacingAndGlyphs" >ns</text>
<text x="407.1" y="308.5" font-size="7.3" text-anchor="middle" fill="#222" textLength="7.2" lengthAdjust="spacingAndGlyphs" >ns</text>
<text x="417.1" y="316.2" font-size="7.3" text-anchor="middle" fill="#222" textLength="7.2" lengthAdjust="spacingAndGlyphs" >ns</text>
<text x="320.2" y="319.6" font-size="8.0" text-anchor="middle" fill="#222" font-weight="bold" >*</text>
<text x="312.8" y="420.3" font-size="6.5" text-anchor="end" fill="#222" textLength="9.5" lengthAdjust="spacingAndGlyphs" transform="rotate(-90 312.8 420.3)" >HC</text>
<text x="333.9" y="420.3" font-size="6.5" text-anchor="end" fill="#222" textLength="29" lengthAdjust="spacingAndGlyphs" transform="rotate(-90 333.9 420.3)" >Untreated</text>
<text x="355.4" y="420.3" font-size="6.5" text-anchor="end" fill="#222" textLength="9.3" lengthAdjust="spacingAndGlyphs" transform="rotate(-90 355.4 420.3)" >0.1</text>
<text x="376.59999999999997" y="420.3" font-size="6.5" text-anchor="end" fill="#222" textLength="9.3" lengthAdjust="spacingAndGlyphs" transform="rotate(-90 376.59999999999997 420.3)" >0.5</text>
<text x="397.8" y="420.3" font-size="6.5" text-anchor="end" fill="#222" textLength="4.3" lengthAdjust="spacingAndGlyphs" transform="rotate(-90 397.8 420.3)" >1</text>
<text x="419.3" y="420.3" font-size="6.5" text-anchor="end" fill="#222" textLength="48.3" lengthAdjust="spacingAndGlyphs" transform="rotate(-90 419.3 420.3)" >Danaparoid (0.8)</text>
<text x="440.59999999999997" y="420.3" font-size="6.5" text-anchor="end" fill="#222" textLength="4.3" lengthAdjust="spacingAndGlyphs" transform="rotate(-90 440.59999999999997 420.3)" >1</text>
<text x="462.0" y="420.3" font-size="6.5" text-anchor="end" fill="#222" textLength="4.8" lengthAdjust="spacingAndGlyphs" transform="rotate(-90 462.0 420.3)" >8</text>
<text x="483.5" y="420.3" font-size="6.5" text-anchor="end" fill="#222" textLength="9.3" lengthAdjust="spacingAndGlyphs" transform="rotate(-90 483.5 420.3)" >0.8</text>
<text x="504.59999999999997" y="420.3" font-size="6.5" text-anchor="end" fill="#222" textLength="4.8" lengthAdjust="spacingAndGlyphs" transform="rotate(-90 504.59999999999997 420.3)" >8</text>
<line x1="346.8" y1="433.3" x2="401.8" y2="433.3" stroke="#222" stroke-width="1.0" />
<text x="374.3" y="441.1" font-size="6.6" text-anchor="middle" fill="#222" textLength="22.2" lengthAdjust="spacingAndGlyphs" >Heparin</text>
<line x1="430.6" y1="433.3" x2="461.8" y2="433.3" stroke="#222" stroke-width="1.0" />
<text x="446.7" y="441.1" font-size="6.6" text-anchor="middle" fill="#222" textLength="39" lengthAdjust="spacingAndGlyphs" >Fondaparinux</text>
<line x1="473.8" y1="433.3" x2="505.1" y2="433.3" stroke="#222" stroke-width="1.0" />
<text x="489.6" y="441.1" font-size="6.6" text-anchor="middle" fill="#222" textLength="33" lengthAdjust="spacingAndGlyphs" >Argatroban</text>
<line x1="324.2" y1="470.2" x2="505.1" y2="470.2" stroke="#222" stroke-width="1.0" />
<text x="415" y="478.0" font-size="6.4" text-anchor="middle" fill="#222" textLength="18.5" lengthAdjust="spacingAndGlyphs" >VITT sera</text>
<circle cx="400.8" cy="255.6" r="2.3" fill="#c6c6cb"/>
<ellipse cx="403.9" cy="263.0" rx="10.7" ry="8.0" fill="#fbe2bb" stroke="#6a9bcc" stroke-width="0.6"/>
<text x="403.9" y="264.6" font-size="6.4" text-anchor="middle" fill="#1a1a1a" textLength="18.6" lengthAdjust="spacingAndGlyphs" stroke="#1a1a1a" stroke-width="0.15">Platelet</text>
<line x1="389" y1="252.9" x2="396.4" y2="252.9" stroke="#d0112b" stroke-width="1.1" />
<line x1="396.7" y1="251.0" x2="396.7" y2="254.8" stroke="#d0112b" stroke-width="1.3" />
<path d="M406.45000000000005,243.3 V248.0" stroke="#8a8a8a" stroke-width="1.40"/>
<path d="M405.3,243.3 V247.6 L404.10,249.00" fill="none" stroke="#454545" stroke-width="0.9"/>
<path d="M407.6,243.3 V247.6 L408.80,249.00" fill="none" stroke="#454545" stroke-width="0.9"/>
<path d="M404.1,249.0 L403.8,251.0" stroke="#d0112b" stroke-width="2.1" stroke-linecap="butt"/>
<path d="M408.8,249.0 L410.9,250.2" stroke="#d0112b" stroke-width="2.1" stroke-linecap="butt"/>
<path d="M404.40000000000003,248.6 L403.75,249.45" stroke="#2f6f6a" stroke-width="2.1" stroke-linecap="butt"/>
<path d="M408.5,248.6 L409.15000000000003,249.45" stroke="#2f6f6a" stroke-width="2.1" stroke-linecap="butt"/>
<path d="M403.45,249.40 l0.6,0.5 l-0.4,0.6" fill="none" stroke="#fff" stroke-width="0.35"/>
<path d="M410.35,249.00 l-0.6,0.5 l0.4,0.6" fill="none" stroke="#fff" stroke-width="0.35"/>
<polyline points="401.30,251.40 401.38,250.93 401.41,250.48 401.37,250.08 401.24,249.74 401.00,249.46 400.66,249.23 400.25,249.05 399.80,248.90 399.35,248.75 398.94,248.57 398.60,248.34 398.36,248.06 398.23,247.72 398.19,247.32 398.22,246.87 398.30,246.40" fill="none" stroke="#5b90c6" stroke-width="0.8" stroke-linecap="round"/>
<polyline points="412.50,251.40 412.91,251.21 413.28,250.99 413.58,250.75 413.76,250.46 413.84,250.12 413.81,249.74 413.70,249.33 413.55,248.90 413.40,248.47 413.29,248.06 413.26,247.68 413.34,247.34 413.52,247.05 413.82,246.81 414.19,246.59 414.60,246.40" fill="none" stroke="#5b90c6" stroke-width="0.8" stroke-linecap="round"/>
<path d="M409.6,232.6 L407.8,236.9" stroke="#3a3a3a" stroke-width="2.0" stroke-linecap="butt"/>
<path d="M407.8,236.9 L403.6,241.0" stroke="#111" stroke-width="1.9" stroke-linecap="butt"/>
<path d="M407.8,236.9 L408.8,242.6" stroke="#111" stroke-width="1.9" stroke-linecap="butt"/>
<polygon points="406.96,232.72 405.94,233.14 406.03,234.24 404.97,233.91 404.33,234.81 403.74,233.88 402.67,234.16 402.82,233.06 401.82,232.59 402.64,231.84 402.17,230.84 403.28,230.79 403.57,229.73 404.45,230.40 405.35,229.77 405.59,230.85 406.69,230.95 406.18,231.93" fill="#2cb34a"/>
<text x="418.4" y="238.6" font-size="6.5" text-anchor="start" fill="#1a1a1a" textLength="44" lengthAdjust="spacingAndGlyphs" >2. AHG binding</text>
<text x="418.4" y="247.2" font-size="6.5" text-anchor="start" fill="#1a1a1a" textLength="79.6" lengthAdjust="spacingAndGlyphs" >1. VITT sera + anticoagulant</text>
<rect x="0.6" y="0.6" width="518.8" height="483.8" fill="none" stroke="#000" stroke-width="1.3"/>
</svg></body></html>
